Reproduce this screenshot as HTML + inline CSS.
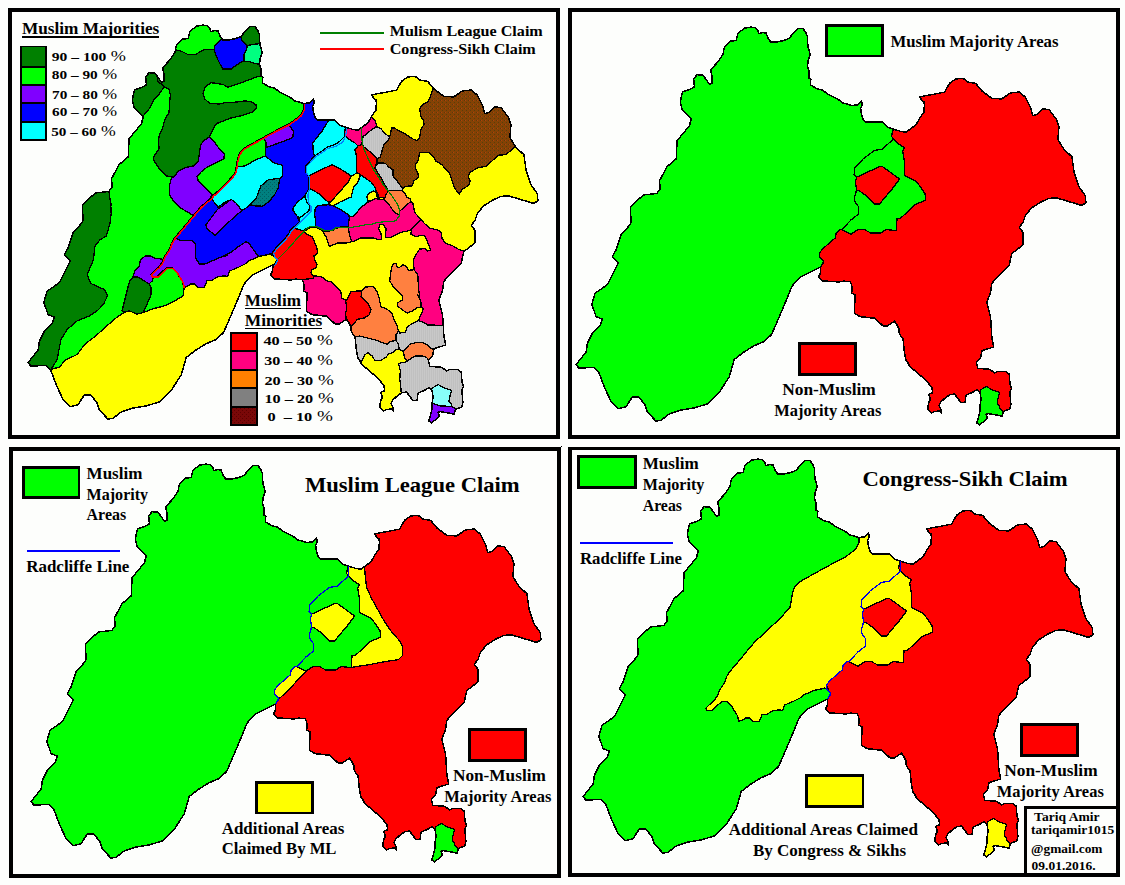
<!DOCTYPE html>
<html><head><meta charset="utf-8"><title>Punjab maps</title>
<style>html,body{margin:0;padding:0;background:#fdfefc}svg{display:block}</style></head>
<body>
<svg width="1125" height="885" viewBox="0 0 1125 885" shape-rendering="crispEdges">
<defs>
<pattern id="brown" width="4" height="4" patternUnits="userSpaceOnUse"><rect width="4" height="4" fill="#844204"/><rect x="0" y="0" width="1" height="1" fill="#5a3c0c"/><rect x="2" y="2" width="1" height="1" fill="#5a3c0c"/><rect x="1" y="0" width="1" height="1" fill="#b0400c"/></pattern>
<pattern id="gray" width="2" height="2" patternUnits="userSpaceOnUse"><rect width="2" height="2" fill="#c0c0c0"/><rect width="1" height="2" fill="#c8c8c8"/></pattern>
<pattern id="teal" width="4" height="4" patternUnits="userSpaceOnUse"><rect width="4" height="4" fill="#008080"/><rect width="1" height="1" fill="#006060"/><rect x="2" y="2" width="1" height="1" fill="#006060"/></pattern>
<pattern id="maroon" width="4" height="4" patternUnits="userSpaceOnUse"><rect width="4" height="4" fill="#7a0808"/><rect width="1" height="1" fill="#5c0000"/><rect x="2" y="2" width="1" height="1" fill="#5c0000"/></pattern>
</defs>
<rect width="1125" height="885" fill="#fdfefc"/>
<path fill-rule="evenodd" d="M8.0,8.0 H560.0 V439.0 H8.0 Z M12.0,12.0 H556.0 V435.0 H12.0 Z" fill="#000"/>
<path fill-rule="evenodd" d="M568.0,8.0 H1120.0 V439.0 H568.0 Z M572.0,12.0 H1116.0 V435.0 H572.0 Z" fill="#000"/>
<path fill-rule="evenodd" d="M9.0,447.0 H561.0 V878.0 H9.0 Z M13.0,451.0 H557.0 V874.0 H13.0 Z" fill="#000"/>
<path fill-rule="evenodd" d="M568.0,447.0 H1120.0 V876.8 H568.0 Z M571.8,450.0 H1116.0 V872.9 H571.8 Z" fill="#000"/>
<path d="M893.3,129.2 L901.9,131.7 L906.2,131.9 L910.0,129.3 L914.7,125.7 L917.0,123.0 L920.1,117.4 L923.8,112.4 L924.4,105.0 L924.1,102.0 L922.6,101.2 L919.7,97.1 L924.6,95.9 L932.1,94.6 L944.5,92.1 L949.5,83.4 L955.8,78.9 L963.2,78.4 L968.2,82.2 L975.7,83.4 L981.9,90.9 L991.8,98.4 L1001.8,98.9 L1010.5,92.9 L1019.2,92.1 L1025.4,97.1 L1030.4,107.0 L1032.9,115.8 L1036.6,114.5 L1042.9,109.0 L1049.0,109.5 L1056.5,119.5 L1059.0,127.0 L1057.8,139.4 L1064.0,149.4 L1072.0,156.8 L1074.0,171.8 L1079.0,186.7 L1085.2,195.4 L1085.9,202.9 L1081.4,205.4 L1069.0,201.6 L1056.5,197.9 L1049.0,198.4 L1041.6,201.6 L1031.7,207.9 L1025.4,215.3 L1023.0,222.8 L1019.2,227.0 L1023.0,232.5 L1023.0,244.9 L1011.8,253.6 L1009.3,264.8 L999.3,274.8 L991.8,283.5 L990.6,292.2 L986.9,302.2 L990.6,317.1 L991.8,337.0 L993.6,347.0 L981.9,350.7 L980.6,358.2 L976.3,361.9 L977.9,368.3 L990.1,369.4 L994.4,373.1 L997.1,371.5 L1006.1,371.5 L1009.3,374.2 L1009.9,383.2 L1011.5,388.6 L1009.9,391.8 L1010.9,404.6 L1009.9,408.8 L1003.5,411.5 L1001.9,416.3 L998.1,415.2 L988.5,413.6 L985.9,414.2 L987.5,417.4 L984.3,421.1 L979.5,424.8 L976.8,423.2 L978.4,417.4 L980.0,411.0 L980.0,405.1 L981.1,399.2 L980.0,392.8 L976.8,389.6 L972.5,392.3 L966.1,395.0 L965.1,402.4 L960.8,402.4 L954.4,393.9 L949.6,394.9 L944.3,398.7 L940.5,402.4 L938.9,405.6 L941.1,409.9 L941.6,413.1 L939.5,411.0 L934.1,411.5 L931.5,413.1 L927.7,408.8 L928.8,402.4 L930.4,399.2 L928.8,394.4 L932.5,392.8 L932.0,387.5 L925.6,380.0 L917.1,372.6 L909.6,366.2 L907.5,361.9 L906.2,360.4 L904.4,352.9 L903.7,345.4 L903.1,338.6 L899.4,334.2 L898.8,328.6 L896.9,324.9 L894.4,321.2 L890.7,323.7 L886.9,326.1 L883.2,326.1 L874.9,318.3 L859.9,316.6 L854.5,313.4 L855.0,294.7 L851.6,293.3 L852.2,287.1 L850.4,281.5 L843.5,281.2 L838.5,281.9 L822.4,280.9 L818.6,277.1 L820.5,272.8 L820.5,267.2 L814.9,269.7 L807.4,273.4 L800.0,277.1 L795.0,282.1 L791.5,287.2 L786.5,299.7 L779.1,317.1 L771.6,334.5 L764.1,341.5 L754.2,345.7 L744.2,351.9 L734.3,359.4 L729.3,376.8 L719.3,392.3 L708.1,403.7 L694.4,407.9 L679.5,410.4 L669.6,413.7 L660.8,420.4 L655.9,421.1 L647.2,411.7 L644.7,404.2 L638.4,396.7 L632.2,397.2 L626.0,406.7 L618.5,408.7 L611.1,401.7 L604.8,388.0 L598.6,371.8 L593.6,367.4 L578.7,368.1 L576.2,364.4 L586.2,351.9 L587.4,343.2 L592.4,333.3 L599.9,325.8 L602.4,319.1 L596.1,316.6 L591.9,304.6 L594.9,293.4 L607.3,284.7 L614.8,269.8 L618.5,262.8 L612.3,256.9 L616.0,249.9 L621.0,235.0 L629.7,225.0 L631.0,222.8 L630.5,206.6 L636.0,201.6 L643.4,195.0 L657.0,193.4 L660.0,189.0 L659.6,180.5 L667.0,166.8 L676.3,158.8 L677.0,140.7 L689.5,125.7 L691.2,118.8 L682.0,109.6 L680.3,102.0 L682.5,91.6 L689.5,89.6 L694.4,86.7 L693.7,79.2 L697.0,74.7 L703.0,75.2 L709.4,84.2 L711.9,83.4 L711.9,75.2 L710.6,69.7 L718.2,61.7 L723.2,53.6 L724.4,46.8 L730.0,41.2 L736.2,40.5 L738.1,33.1 L744.3,28.3 L750.6,27.1 L754.9,27.5 L758.0,30.6 L758.6,33.7 L762.4,32.5 L766.1,33.1 L768.0,38.1 L770.5,41.8 L777.9,41.8 L784.2,40.5 L789.1,38.1 L794.1,32.5 L798.5,28.3 L802.8,28.3 L805.9,32.5 L807.5,36.8 L807.8,45.5 L809.0,50.5 L810.3,54.9 L808.4,59.2 L807.5,66.1 L808.8,70.4 L808.8,77.9 L810.9,79.1 L810.3,84.7 L816.5,88.5 L822.7,90.3 L827.7,94.1 L837.7,99.0 L842.6,102.8 L851.6,105.4 L857.2,105.0 L861.6,101.2 L862.2,105.6 L860.7,107.5 L861.0,112.4 L862.8,118.7 L865.3,122.1 L882.1,121.8 L887.1,126.8Z" fill="#ff0000" stroke="none"/>
<path d="M820.5,267.2 L814.9,269.7 L807.4,273.4 L800.0,277.1 L795.0,282.1 L791.5,287.2 L786.5,299.7 L779.1,317.1 L771.6,334.5 L764.1,341.5 L754.2,345.7 L744.2,351.9 L734.3,359.4 L729.3,376.8 L719.3,392.3 L708.1,403.7 L694.4,407.9 L679.5,410.4 L669.6,413.7 L660.8,420.4 L655.9,421.1 L647.2,411.7 L644.7,404.2 L638.4,396.7 L632.2,397.2 L626.0,406.7 L618.5,408.7 L611.1,401.7 L604.8,388.0 L598.6,371.8 L593.6,367.4 L578.7,368.1 L576.2,364.4 L586.2,351.9 L587.4,343.2 L592.4,333.3 L599.9,325.8 L602.4,319.1 L596.1,316.6 L591.9,304.6 L594.9,293.4 L607.3,284.7 L614.8,269.8 L618.5,262.8 L612.3,256.9 L616.0,249.9 L621.0,235.0 L629.7,225.0 L631.0,222.8 L630.5,206.6 L636.0,201.6 L643.4,195.0 L657.0,193.4 L660.0,189.0 L659.6,180.5 L667.0,166.8 L676.3,158.8 L677.0,140.7 L689.5,125.7 L691.2,118.8 L682.0,109.6 L680.3,102.0 L682.5,91.6 L689.5,89.6 L694.4,86.7 L693.7,79.2 L697.0,74.7 L703.0,75.2 L709.4,84.2 L711.9,83.4 L711.9,75.2 L710.6,69.7 L718.2,61.7 L723.2,53.6 L724.4,46.8 L730.0,41.2 L736.2,40.5 L738.1,33.1 L744.3,28.3 L750.6,27.1 L754.9,27.5 L758.0,30.6 L758.6,33.7 L762.4,32.5 L766.1,33.1 L768.0,38.1 L770.5,41.8 L777.9,41.8 L784.2,40.5 L789.1,38.1 L794.1,32.5 L798.5,28.3 L802.8,28.3 L805.9,32.5 L807.5,36.8 L807.8,45.5 L809.0,50.5 L810.3,54.9 L808.4,59.2 L807.5,66.1 L808.8,70.4 L808.8,77.9 L810.9,79.1 L810.3,84.7 L816.5,88.5 L822.7,90.3 L827.7,94.1 L837.7,99.0 L842.6,102.8 L851.6,105.4 L857.2,105.0 L861.6,101.2 L862.2,105.6 L860.7,107.5 L861.0,112.4 L862.8,118.7 L865.3,122.1 L882.1,121.8 L887.1,126.8 L893.3,129.2 L891.5,136.1 L893.3,139.2 L898.3,143.6 L904.5,147.9 L902.7,151.0 L904.5,162.2 L904.5,175.3 L915.7,180.9 L920.7,187.1 L925.1,194.0 L925.6,200.0 L914.4,205.0 L908.2,211.2 L900.8,218.0 L897.0,218.6 L896.4,230.5 L888.3,229.8 L885.8,229.8 L880.8,233.0 L870.9,233.0 L864.7,229.8 L857.8,229.6 L851.0,234.2 L841.6,229.8 L839.8,229.2 L836.0,233.6 L835.4,237.9 L827.3,244.8 L821.7,249.8 L819.5,253.5 L819.9,257.8 L823.3,261.0 L823.0,263.2Z" fill="#00ff00" stroke="#000" stroke-width="1.3" stroke-linejoin="round"/>
<path d="M856.6,177.2 L864.7,173.4 L879.6,166.6 L882.8,166.8 L899.6,179.0 L892.1,189.0 L879.6,203.9 L874.7,203.9 L864.7,194.6 L858.5,190.2 L856.6,190.2 L855.4,182.1Z" fill="#ff0000" stroke="#000" stroke-width="1.3" stroke-linejoin="round"/>
<path d="M981.1,389.6 L986.4,386.4 L991.7,389.6 L999.7,392.3 L998.1,398.2 L997.1,403.0 L999.7,406.2 L999.7,408.3 L1003.5,411.5 L1001.9,416.3 L998.1,415.2 L988.5,413.6 L985.9,414.2 L987.5,417.4 L984.3,421.1 L979.5,424.8 L976.8,423.2 L978.4,417.4 L980.0,411.0 L980.0,405.1 L981.1,399.2 L980.0,392.8Z" fill="#00ff00" stroke="#000" stroke-width="1.3" stroke-linejoin="round"/>
<path d="M893.3,139.2 L887.1,144.8 L882.1,149.2 L874.7,150.4 L863.5,158.5 L854.8,167.8 L854.1,174.7 L856.6,177.2 L855.4,182.1 L856.6,190.2 L854.8,195.8 L854.7,201.2 L858.2,206.2 L858.2,214.3 L851.0,219.9 L841.6,229.8" fill="none" stroke="#000" stroke-width="1.3" stroke-linejoin="round"/>
<path d="M893.3,129.2 L901.9,131.7 L906.2,131.9 L910.0,129.3 L914.7,125.7 L917.0,123.0 L920.1,117.4 L923.8,112.4 L924.4,105.0 L924.1,102.0 L922.6,101.2 L919.7,97.1 L924.6,95.9 L932.1,94.6 L944.5,92.1 L949.5,83.4 L955.8,78.9 L963.2,78.4 L968.2,82.2 L975.7,83.4 L981.9,90.9 L991.8,98.4 L1001.8,98.9 L1010.5,92.9 L1019.2,92.1 L1025.4,97.1 L1030.4,107.0 L1032.9,115.8 L1036.6,114.5 L1042.9,109.0 L1049.0,109.5 L1056.5,119.5 L1059.0,127.0 L1057.8,139.4 L1064.0,149.4 L1072.0,156.8 L1074.0,171.8 L1079.0,186.7 L1085.2,195.4 L1085.9,202.9 L1081.4,205.4 L1069.0,201.6 L1056.5,197.9 L1049.0,198.4 L1041.6,201.6 L1031.7,207.9 L1025.4,215.3 L1023.0,222.8 L1019.2,227.0 L1023.0,232.5 L1023.0,244.9 L1011.8,253.6 L1009.3,264.8 L999.3,274.8 L991.8,283.5 L990.6,292.2 L986.9,302.2 L990.6,317.1 L991.8,337.0 L993.6,347.0 L981.9,350.7 L980.6,358.2 L976.3,361.9 L977.9,368.3 L990.1,369.4 L994.4,373.1 L997.1,371.5 L1006.1,371.5 L1009.3,374.2 L1009.9,383.2 L1011.5,388.6 L1009.9,391.8 L1010.9,404.6 L1009.9,408.8 L1003.5,411.5 L1001.9,416.3 L998.1,415.2 L988.5,413.6 L985.9,414.2 L987.5,417.4 L984.3,421.1 L979.5,424.8 L976.8,423.2 L978.4,417.4 L980.0,411.0 L980.0,405.1 L981.1,399.2 L980.0,392.8 L976.8,389.6 L972.5,392.3 L966.1,395.0 L965.1,402.4 L960.8,402.4 L954.4,393.9 L949.6,394.9 L944.3,398.7 L940.5,402.4 L938.9,405.6 L941.1,409.9 L941.6,413.1 L939.5,411.0 L934.1,411.5 L931.5,413.1 L927.7,408.8 L928.8,402.4 L930.4,399.2 L928.8,394.4 L932.5,392.8 L932.0,387.5 L925.6,380.0 L917.1,372.6 L909.6,366.2 L907.5,361.9 L906.2,360.4 L904.4,352.9 L903.7,345.4 L903.1,338.6 L899.4,334.2 L898.8,328.6 L896.9,324.9 L894.4,321.2 L890.7,323.7 L886.9,326.1 L883.2,326.1 L874.9,318.3 L859.9,316.6 L854.5,313.4 L855.0,294.7 L851.6,293.3 L852.2,287.1 L850.4,281.5 L843.5,281.2 L838.5,281.9 L822.4,280.9 L818.6,277.1 L820.5,272.8 L820.5,267.2 L814.9,269.7 L807.4,273.4 L800.0,277.1 L795.0,282.1 L791.5,287.2 L786.5,299.7 L779.1,317.1 L771.6,334.5 L764.1,341.5 L754.2,345.7 L744.2,351.9 L734.3,359.4 L729.3,376.8 L719.3,392.3 L708.1,403.7 L694.4,407.9 L679.5,410.4 L669.6,413.7 L660.8,420.4 L655.9,421.1 L647.2,411.7 L644.7,404.2 L638.4,396.7 L632.2,397.2 L626.0,406.7 L618.5,408.7 L611.1,401.7 L604.8,388.0 L598.6,371.8 L593.6,367.4 L578.7,368.1 L576.2,364.4 L586.2,351.9 L587.4,343.2 L592.4,333.3 L599.9,325.8 L602.4,319.1 L596.1,316.6 L591.9,304.6 L594.9,293.4 L607.3,284.7 L614.8,269.8 L618.5,262.8 L612.3,256.9 L616.0,249.9 L621.0,235.0 L629.7,225.0 L631.0,222.8 L630.5,206.6 L636.0,201.6 L643.4,195.0 L657.0,193.4 L660.0,189.0 L659.6,180.5 L667.0,166.8 L676.3,158.8 L677.0,140.7 L689.5,125.7 L691.2,118.8 L682.0,109.6 L680.3,102.0 L682.5,91.6 L689.5,89.6 L694.4,86.7 L693.7,79.2 L697.0,74.7 L703.0,75.2 L709.4,84.2 L711.9,83.4 L711.9,75.2 L710.6,69.7 L718.2,61.7 L723.2,53.6 L724.4,46.8 L730.0,41.2 L736.2,40.5 L738.1,33.1 L744.3,28.3 L750.6,27.1 L754.9,27.5 L758.0,30.6 L758.6,33.7 L762.4,32.5 L766.1,33.1 L768.0,38.1 L770.5,41.8 L777.9,41.8 L784.2,40.5 L789.1,38.1 L794.1,32.5 L798.5,28.3 L802.8,28.3 L805.9,32.5 L807.5,36.8 L807.8,45.5 L809.0,50.5 L810.3,54.9 L808.4,59.2 L807.5,66.1 L808.8,70.4 L808.8,77.9 L810.9,79.1 L810.3,84.7 L816.5,88.5 L822.7,90.3 L827.7,94.1 L837.7,99.0 L842.6,102.8 L851.6,105.4 L857.2,105.0 L861.6,101.2 L862.2,105.6 L860.7,107.5 L861.0,112.4 L862.8,118.7 L865.3,122.1 L882.1,121.8 L887.1,126.8Z" fill="none" stroke="#000" stroke-width="1.5" stroke-linejoin="round"/>
<rect x="826.3" y="25.7" width="56.0" height="30.3" fill="#00ff00" stroke="#000" stroke-width="2.6"/>
<text x="890.5" y="46.6" font-size="16.5" font-family="Liberation Serif, serif" font-weight="bold"  textLength="168.0" lengthAdjust="spacingAndGlyphs">Muslim Majority Areas</text>
<rect x="799.3" y="343.4" width="56.5" height="31.1" fill="#ff0000" stroke="#000" stroke-width="2.6"/>
<text x="782.2" y="394.7" font-size="16.5" font-family="Liberation Serif, serif" font-weight="bold"  textLength="93.6" lengthAdjust="spacingAndGlyphs">Non-Muslim</text>
<text x="774.3" y="415.6" font-size="16.5" font-family="Liberation Serif, serif" font-weight="bold"  textLength="107.0" lengthAdjust="spacingAndGlyphs">Majority Areas</text>
<path d="M348.3,566.2 L356.9,568.7 L361.2,568.9 L365.0,566.3 L369.7,562.7 L372.0,560.0 L375.1,554.4 L378.8,549.4 L379.4,542.0 L379.1,539.0 L377.6,538.2 L374.7,534.1 L379.6,532.9 L387.1,531.6 L399.5,529.1 L404.5,520.4 L410.8,515.9 L418.2,515.4 L423.2,519.2 L430.7,520.4 L436.9,527.9 L446.8,535.4 L456.8,535.9 L465.5,529.9 L474.2,529.1 L480.4,534.1 L485.4,544.0 L487.9,552.8 L491.6,551.5 L497.9,546.0 L504.0,546.5 L511.5,556.5 L514.0,564.0 L512.8,576.4 L519.0,586.4 L527.0,593.8 L529.0,608.8 L534.0,623.7 L540.2,632.4 L540.9,639.9 L536.4,642.4 L524.0,638.6 L511.5,634.9 L504.0,635.4 L496.6,638.6 L486.7,644.9 L480.4,652.3 L478.0,659.8 L474.2,664.0 L478.0,669.5 L478.0,681.9 L466.8,690.6 L464.3,701.8 L454.3,711.8 L446.8,720.5 L445.6,729.2 L441.9,739.2 L445.6,754.1 L446.8,774.0 L448.6,784.0 L436.9,787.7 L435.6,795.2 L431.3,798.9 L432.9,805.3 L445.1,806.4 L449.4,810.1 L452.1,808.5 L461.1,808.5 L464.3,811.2 L464.9,820.2 L466.5,825.6 L464.9,828.8 L465.9,841.6 L464.9,845.8 L458.5,848.5 L456.9,853.3 L453.1,852.2 L443.5,850.6 L440.9,851.2 L442.5,854.4 L439.3,858.1 L434.5,861.8 L431.8,860.2 L433.4,854.4 L435.0,848.0 L435.0,842.1 L436.1,836.2 L435.0,829.8 L431.8,826.6 L427.5,829.3 L421.1,832.0 L420.1,839.4 L415.8,839.4 L409.4,830.9 L404.6,831.9 L399.3,835.7 L395.5,839.4 L393.9,842.6 L396.1,846.9 L396.6,850.1 L394.5,848.0 L389.1,848.5 L386.5,850.1 L382.7,845.8 L383.8,839.4 L385.4,836.2 L383.8,831.4 L387.5,829.8 L387.0,824.5 L380.6,817.0 L372.1,809.6 L364.6,803.2 L362.5,798.9 L361.2,797.4 L359.4,789.9 L358.7,782.4 L358.1,775.6 L354.4,771.2 L353.8,765.6 L351.9,761.9 L349.4,758.2 L345.7,760.7 L341.9,763.1 L338.2,763.1 L329.9,755.3 L314.9,753.6 L309.5,750.4 L310.0,731.7 L306.6,730.3 L307.2,724.1 L305.4,718.5 L298.5,718.2 L293.5,718.9 L277.4,717.9 L273.6,714.1 L275.5,709.8 L275.5,704.2 L269.9,706.7 L262.4,710.4 L255.0,714.1 L250.0,719.1 L246.5,724.2 L241.5,736.7 L234.1,754.1 L226.6,771.5 L219.1,778.5 L209.2,782.7 L199.2,788.9 L189.3,796.4 L184.3,813.8 L174.3,829.3 L163.1,840.7 L149.4,844.9 L134.5,847.4 L124.6,850.7 L115.8,857.4 L110.9,858.1 L102.2,848.7 L99.7,841.2 L93.4,833.7 L87.2,834.2 L81.0,843.7 L73.5,845.7 L66.1,838.7 L59.8,825.0 L53.6,808.8 L48.6,804.4 L33.7,805.1 L31.2,801.4 L41.2,788.9 L42.4,780.2 L47.4,770.3 L54.9,762.8 L57.4,756.1 L51.1,753.6 L46.9,741.6 L49.9,730.4 L62.3,721.7 L69.8,706.8 L73.5,699.8 L67.3,693.9 L71.0,686.9 L76.0,672.0 L84.7,662.0 L86.0,659.8 L85.5,643.6 L91.0,638.6 L98.4,632.0 L112.0,630.4 L115.0,626.0 L114.6,617.5 L122.0,603.8 L131.3,595.8 L132.0,577.7 L144.5,562.7 L146.2,555.8 L137.0,546.6 L135.3,539.0 L137.5,528.6 L144.5,526.6 L149.4,523.7 L148.7,516.2 L152.0,511.7 L158.0,512.2 L164.4,521.2 L166.9,520.4 L166.9,512.2 L165.6,506.7 L173.2,498.7 L178.2,490.6 L179.4,483.8 L185.0,478.2 L191.2,477.5 L193.1,470.1 L199.3,465.3 L205.6,464.1 L209.9,464.5 L213.0,467.6 L213.6,470.7 L217.4,469.5 L221.1,470.1 L223.0,475.1 L225.5,478.8 L232.9,478.8 L239.2,477.5 L244.1,475.1 L249.1,469.5 L253.5,465.3 L257.8,465.3 L260.9,469.5 L262.5,473.8 L262.8,482.5 L264.0,487.5 L265.3,491.9 L263.4,496.2 L262.5,503.1 L263.8,507.4 L263.8,514.9 L265.9,516.1 L265.3,521.7 L271.5,525.5 L277.7,527.3 L282.7,531.1 L292.7,536.0 L297.6,539.8 L306.6,542.4 L312.2,542.0 L316.6,538.2 L317.2,542.6 L315.7,544.5 L316.0,549.4 L317.8,555.7 L320.3,559.1 L337.1,558.8 L342.1,563.8Z" fill="#ff0000" stroke="none"/>
<path d="M275.5,704.2 L269.9,706.7 L262.4,710.4 L255.0,714.1 L250.0,719.1 L246.5,724.2 L241.5,736.7 L234.1,754.1 L226.6,771.5 L219.1,778.5 L209.2,782.7 L199.2,788.9 L189.3,796.4 L184.3,813.8 L174.3,829.3 L163.1,840.7 L149.4,844.9 L134.5,847.4 L124.6,850.7 L115.8,857.4 L110.9,858.1 L102.2,848.7 L99.7,841.2 L93.4,833.7 L87.2,834.2 L81.0,843.7 L73.5,845.7 L66.1,838.7 L59.8,825.0 L53.6,808.8 L48.6,804.4 L33.7,805.1 L31.2,801.4 L41.2,788.9 L42.4,780.2 L47.4,770.3 L54.9,762.8 L57.4,756.1 L51.1,753.6 L46.9,741.6 L49.9,730.4 L62.3,721.7 L69.8,706.8 L73.5,699.8 L67.3,693.9 L71.0,686.9 L76.0,672.0 L84.7,662.0 L86.0,659.8 L85.5,643.6 L91.0,638.6 L98.4,632.0 L112.0,630.4 L115.0,626.0 L114.6,617.5 L122.0,603.8 L131.3,595.8 L132.0,577.7 L144.5,562.7 L146.2,555.8 L137.0,546.6 L135.3,539.0 L137.5,528.6 L144.5,526.6 L149.4,523.7 L148.7,516.2 L152.0,511.7 L158.0,512.2 L164.4,521.2 L166.9,520.4 L166.9,512.2 L165.6,506.7 L173.2,498.7 L178.2,490.6 L179.4,483.8 L185.0,478.2 L191.2,477.5 L193.1,470.1 L199.3,465.3 L205.6,464.1 L209.9,464.5 L213.0,467.6 L213.6,470.7 L217.4,469.5 L221.1,470.1 L223.0,475.1 L225.5,478.8 L232.9,478.8 L239.2,477.5 L244.1,475.1 L249.1,469.5 L253.5,465.3 L257.8,465.3 L260.9,469.5 L262.5,473.8 L262.8,482.5 L264.0,487.5 L265.3,491.9 L263.4,496.2 L262.5,503.1 L263.8,507.4 L263.8,514.9 L265.9,516.1 L265.3,521.7 L271.5,525.5 L277.7,527.3 L282.7,531.1 L292.7,536.0 L297.6,539.8 L306.6,542.4 L312.2,542.0 L316.6,538.2 L317.2,542.6 L315.7,544.5 L316.0,549.4 L317.8,555.7 L320.3,559.1 L337.1,558.8 L342.1,563.8 L348.3,566.2 L346.5,573.1 L348.3,576.2 L353.3,580.6 L359.5,584.9 L357.7,588.0 L359.5,599.2 L359.5,612.3 L370.7,617.9 L375.7,624.1 L380.1,631.0 L380.6,637.0 L369.4,642.0 L363.2,648.2 L355.8,655.0 L352.0,655.6 L351.4,667.5 L343.3,666.8 L340.8,666.8 L335.8,670.0 L325.9,670.0 L319.7,666.8 L312.8,666.6 L306.0,671.2 L296.6,666.8 L294.8,666.2 L291.0,670.6 L290.4,674.9 L282.3,681.8 L276.7,686.8 L274.5,690.5 L274.9,694.8 L278.3,698.0 L278.0,700.2Z" fill="#00ff00" stroke="#000" stroke-width="1.3" stroke-linejoin="round"/>
<path d="M348.3,566.2 L356.9,568.7 L361.2,568.9 L364.5,566.3 L365.5,578.7 L366.7,588.0 L372.3,599.8 L378.6,611.0 L384.8,622.2 L392.3,632.8 L399.7,640.9 L402.8,647.1 L402.2,655.8 L398.5,659.6 L386.0,661.4 L369.9,664.5 L354.9,666.8 L351.4,667.5 L352.0,655.6 L355.8,655.0 L363.2,648.2 L369.4,642.0 L380.6,637.0 L380.1,631.0 L375.7,624.1 L370.7,617.9 L359.5,612.3 L359.5,599.2 L357.7,588.0 L359.5,584.9 L353.3,580.6 L348.3,576.2 L346.5,573.1 L348.3,566.2Z" fill="#ffff00" stroke="#000" stroke-width="1.3" stroke-linejoin="round"/>
<path d="M296.6,666.8 L306.0,671.2 L300.0,677.3 L290.1,688.5 L280.1,697.9 L278.3,698.0 L274.9,694.8 L274.5,690.5 L276.7,686.8 L282.3,681.8 L290.4,674.9 L291.0,670.6 L294.8,666.2Z" fill="#ffff00" stroke="#000" stroke-width="1.3" stroke-linejoin="round"/>
<path d="M311.6,614.2 L319.7,610.4 L334.6,603.6 L337.8,603.8 L354.6,616.0 L347.1,626.0 L334.6,640.9 L329.7,640.9 L319.7,631.6 L313.5,627.2 L311.6,627.2 L310.4,619.1Z" fill="#ffff00" stroke="#000" stroke-width="1.3" stroke-linejoin="round"/>
<path d="M436.1,826.6 L441.4,823.4 L446.7,826.6 L454.7,829.3 L453.1,835.2 L452.1,840.0 L454.7,843.2 L454.7,845.3 L458.5,848.5 L456.9,853.3 L453.1,852.2 L443.5,850.6 L440.9,851.2 L442.5,854.4 L439.3,858.1 L434.5,861.8 L431.8,860.2 L433.4,854.4 L435.0,848.0 L435.0,842.1 L436.1,836.2 L435.0,829.8Z" fill="#00ff00" stroke="#000" stroke-width="1.3" stroke-linejoin="round"/>
<path d="M348.3,576.2 L342.1,581.8 L337.1,586.2 L329.7,587.4 L318.5,595.5 L309.8,604.8 L309.1,611.7 L311.6,614.2 L310.4,619.1 L311.6,627.2 L309.8,632.8 L309.7,638.2 L313.2,643.2 L313.2,651.3 L306.0,656.9 L296.6,666.8" fill="none" stroke="#000" stroke-width="1.3" stroke-linejoin="round"/>
<path d="M348.3,566.2 L356.9,568.7 L361.2,568.9 L365.0,566.3 L369.7,562.7 L372.0,560.0 L375.1,554.4 L378.8,549.4 L379.4,542.0 L379.1,539.0 L377.6,538.2 L374.7,534.1 L379.6,532.9 L387.1,531.6 L399.5,529.1 L404.5,520.4 L410.8,515.9 L418.2,515.4 L423.2,519.2 L430.7,520.4 L436.9,527.9 L446.8,535.4 L456.8,535.9 L465.5,529.9 L474.2,529.1 L480.4,534.1 L485.4,544.0 L487.9,552.8 L491.6,551.5 L497.9,546.0 L504.0,546.5 L511.5,556.5 L514.0,564.0 L512.8,576.4 L519.0,586.4 L527.0,593.8 L529.0,608.8 L534.0,623.7 L540.2,632.4 L540.9,639.9 L536.4,642.4 L524.0,638.6 L511.5,634.9 L504.0,635.4 L496.6,638.6 L486.7,644.9 L480.4,652.3 L478.0,659.8 L474.2,664.0 L478.0,669.5 L478.0,681.9 L466.8,690.6 L464.3,701.8 L454.3,711.8 L446.8,720.5 L445.6,729.2 L441.9,739.2 L445.6,754.1 L446.8,774.0 L448.6,784.0 L436.9,787.7 L435.6,795.2 L431.3,798.9 L432.9,805.3 L445.1,806.4 L449.4,810.1 L452.1,808.5 L461.1,808.5 L464.3,811.2 L464.9,820.2 L466.5,825.6 L464.9,828.8 L465.9,841.6 L464.9,845.8 L458.5,848.5 L456.9,853.3 L453.1,852.2 L443.5,850.6 L440.9,851.2 L442.5,854.4 L439.3,858.1 L434.5,861.8 L431.8,860.2 L433.4,854.4 L435.0,848.0 L435.0,842.1 L436.1,836.2 L435.0,829.8 L431.8,826.6 L427.5,829.3 L421.1,832.0 L420.1,839.4 L415.8,839.4 L409.4,830.9 L404.6,831.9 L399.3,835.7 L395.5,839.4 L393.9,842.6 L396.1,846.9 L396.6,850.1 L394.5,848.0 L389.1,848.5 L386.5,850.1 L382.7,845.8 L383.8,839.4 L385.4,836.2 L383.8,831.4 L387.5,829.8 L387.0,824.5 L380.6,817.0 L372.1,809.6 L364.6,803.2 L362.5,798.9 L361.2,797.4 L359.4,789.9 L358.7,782.4 L358.1,775.6 L354.4,771.2 L353.8,765.6 L351.9,761.9 L349.4,758.2 L345.7,760.7 L341.9,763.1 L338.2,763.1 L329.9,755.3 L314.9,753.6 L309.5,750.4 L310.0,731.7 L306.6,730.3 L307.2,724.1 L305.4,718.5 L298.5,718.2 L293.5,718.9 L277.4,717.9 L273.6,714.1 L275.5,709.8 L275.5,704.2 L269.9,706.7 L262.4,710.4 L255.0,714.1 L250.0,719.1 L246.5,724.2 L241.5,736.7 L234.1,754.1 L226.6,771.5 L219.1,778.5 L209.2,782.7 L199.2,788.9 L189.3,796.4 L184.3,813.8 L174.3,829.3 L163.1,840.7 L149.4,844.9 L134.5,847.4 L124.6,850.7 L115.8,857.4 L110.9,858.1 L102.2,848.7 L99.7,841.2 L93.4,833.7 L87.2,834.2 L81.0,843.7 L73.5,845.7 L66.1,838.7 L59.8,825.0 L53.6,808.8 L48.6,804.4 L33.7,805.1 L31.2,801.4 L41.2,788.9 L42.4,780.2 L47.4,770.3 L54.9,762.8 L57.4,756.1 L51.1,753.6 L46.9,741.6 L49.9,730.4 L62.3,721.7 L69.8,706.8 L73.5,699.8 L67.3,693.9 L71.0,686.9 L76.0,672.0 L84.7,662.0 L86.0,659.8 L85.5,643.6 L91.0,638.6 L98.4,632.0 L112.0,630.4 L115.0,626.0 L114.6,617.5 L122.0,603.8 L131.3,595.8 L132.0,577.7 L144.5,562.7 L146.2,555.8 L137.0,546.6 L135.3,539.0 L137.5,528.6 L144.5,526.6 L149.4,523.7 L148.7,516.2 L152.0,511.7 L158.0,512.2 L164.4,521.2 L166.9,520.4 L166.9,512.2 L165.6,506.7 L173.2,498.7 L178.2,490.6 L179.4,483.8 L185.0,478.2 L191.2,477.5 L193.1,470.1 L199.3,465.3 L205.6,464.1 L209.9,464.5 L213.0,467.6 L213.6,470.7 L217.4,469.5 L221.1,470.1 L223.0,475.1 L225.5,478.8 L232.9,478.8 L239.2,477.5 L244.1,475.1 L249.1,469.5 L253.5,465.3 L257.8,465.3 L260.9,469.5 L262.5,473.8 L262.8,482.5 L264.0,487.5 L265.3,491.9 L263.4,496.2 L262.5,503.1 L263.8,507.4 L263.8,514.9 L265.9,516.1 L265.3,521.7 L271.5,525.5 L277.7,527.3 L282.7,531.1 L292.7,536.0 L297.6,539.8 L306.6,542.4 L312.2,542.0 L316.6,538.2 L317.2,542.6 L315.7,544.5 L316.0,549.4 L317.8,555.7 L320.3,559.1 L337.1,558.8 L342.1,563.8Z" fill="none" stroke="#000" stroke-width="1.5" stroke-linejoin="round"/>
<path d="M348.3,566.2 L348.3,576.2 L342.1,581.8 L337.1,586.2 L329.7,587.4 L318.5,595.5 L309.8,604.8 L309.1,611.7 L311.6,614.2 L310.4,619.1 L311.6,627.2 L309.8,632.8 L309.7,638.2 L313.2,643.2 L313.2,651.3 L306.0,656.9 L296.6,666.8 L294.8,666.2 L291.0,670.6 L290.4,674.9 L282.3,681.8 L276.7,686.8 L274.5,690.5 L274.9,694.8 L278.3,698.0 L278.0,700.2 L275.5,704.2" fill="none" stroke="#0000e0" stroke-width="1.3" stroke-linejoin="round"/>
<rect x="23.2" y="467.5" width="55.9" height="29.7" fill="#00ff00" stroke="#000" stroke-width="2.6"/>
<text x="86.6" y="478.6" font-size="16.5" font-family="Liberation Serif, serif" font-weight="bold"  textLength="55.8" lengthAdjust="spacingAndGlyphs">Muslim</text>
<text x="86.6" y="499.8" font-size="16.5" font-family="Liberation Serif, serif" font-weight="bold"  textLength="61.5" lengthAdjust="spacingAndGlyphs">Majority</text>
<text x="86.6" y="520.4" font-size="16.5" font-family="Liberation Serif, serif" font-weight="bold"  textLength="39.6" lengthAdjust="spacingAndGlyphs">Areas</text>
<rect x="27" y="550" width="93" height="2" fill="#0000ff"/>
<text x="26.2" y="571.9" font-size="16.5" font-family="Liberation Serif, serif" font-weight="bold"  textLength="103.2" lengthAdjust="spacingAndGlyphs">Radcliffe Line</text>
<text x="304.9" y="491.8" font-size="21" font-family="Liberation Serif, serif" font-weight="bold"  textLength="214.8" lengthAdjust="spacingAndGlyphs">Muslim League Claim</text>
<rect x="469.7" y="729.3" width="55.9" height="30.9" fill="#ff0000" stroke="#000" stroke-width="2.6"/>
<text x="453.0" y="781.2" font-size="16.5" font-family="Liberation Serif, serif" font-weight="bold"  textLength="92.8" lengthAdjust="spacingAndGlyphs">Non-Muslim</text>
<text x="444.3" y="801.9" font-size="16.5" font-family="Liberation Serif, serif" font-weight="bold"  textLength="107.0" lengthAdjust="spacingAndGlyphs">Majority Areas</text>
<rect x="256.4" y="782.3" width="56.1" height="30.8" fill="#ffff00" stroke="#000" stroke-width="2.6"/>
<text x="221.7" y="833.5" font-size="16.5" font-family="Liberation Serif, serif" font-weight="bold"  textLength="122.7" lengthAdjust="spacingAndGlyphs">Additional Areas</text>
<text x="221.7" y="854.1" font-size="16.5" font-family="Liberation Serif, serif" font-weight="bold"  textLength="114.8" lengthAdjust="spacingAndGlyphs">Claimed By ML</text>
<path d="M900.3,561.2 L908.9,563.7 L913.2,563.9 L917.0,561.3 L921.7,557.7 L924.0,555.0 L927.1,549.4 L930.8,544.4 L931.4,537.0 L931.1,534.0 L929.6,533.2 L926.7,529.1 L931.6,527.9 L939.1,526.6 L951.5,524.1 L956.5,515.4 L962.8,510.9 L970.2,510.4 L975.2,514.2 L982.7,515.4 L988.9,522.9 L998.8,530.4 L1008.8,530.9 L1017.5,524.9 L1026.2,524.1 L1032.4,529.1 L1037.4,539.0 L1039.9,547.8 L1043.6,546.5 L1049.9,541.0 L1056.0,541.5 L1063.5,551.5 L1066.0,559.0 L1064.8,571.4 L1071.0,581.4 L1079.0,588.8 L1081.0,603.8 L1086.0,618.7 L1092.2,627.4 L1092.9,634.9 L1088.4,637.4 L1076.0,633.6 L1063.5,629.9 L1056.0,630.4 L1048.6,633.6 L1038.7,639.9 L1032.4,647.3 L1030.0,654.8 L1026.2,659.0 L1030.0,664.5 L1030.0,676.9 L1018.8,685.6 L1016.3,696.8 L1006.3,706.8 L998.8,715.5 L997.6,724.2 L993.9,734.2 L997.6,749.1 L998.8,769.0 L1000.6,779.0 L988.9,782.7 L987.6,790.2 L983.3,793.9 L984.9,800.3 L997.1,801.4 L1001.4,805.1 L1004.1,803.5 L1013.1,803.5 L1016.3,806.2 L1016.9,815.2 L1018.5,820.6 L1016.9,823.8 L1017.9,836.6 L1016.9,840.8 L1010.5,843.5 L1008.9,848.3 L1005.1,847.2 L995.5,845.6 L992.9,846.2 L994.5,849.4 L991.3,853.1 L986.5,856.8 L983.8,855.2 L985.4,849.4 L987.0,843.0 L987.0,837.1 L988.1,831.2 L987.0,824.8 L983.8,821.6 L979.5,824.3 L973.1,827.0 L972.1,834.4 L967.8,834.4 L961.4,825.9 L956.6,826.9 L951.3,830.7 L947.5,834.4 L945.9,837.6 L948.1,841.9 L948.6,845.1 L946.5,843.0 L941.1,843.5 L938.5,845.1 L934.7,840.8 L935.8,834.4 L937.4,831.2 L935.8,826.4 L939.5,824.8 L939.0,819.5 L932.6,812.0 L924.1,804.6 L916.6,798.2 L914.5,793.9 L913.2,792.4 L911.4,784.9 L910.7,777.4 L910.1,770.6 L906.4,766.2 L905.8,760.6 L903.9,756.9 L901.4,753.2 L897.7,755.7 L893.9,758.1 L890.2,758.1 L881.9,750.3 L866.9,748.6 L861.5,745.4 L862.0,726.7 L858.6,725.3 L859.2,719.1 L857.4,713.5 L850.5,713.2 L845.5,713.9 L829.4,712.9 L825.6,709.1 L827.5,704.8 L827.5,699.2 L821.9,701.7 L814.4,705.4 L807.0,709.1 L802.0,714.1 L798.5,719.2 L793.5,731.7 L786.1,749.1 L778.6,766.5 L771.1,773.5 L761.2,777.7 L751.2,783.9 L741.3,791.4 L736.3,808.8 L726.3,824.3 L715.1,835.7 L701.4,839.9 L686.5,842.4 L676.6,845.7 L667.8,852.4 L662.9,853.1 L654.2,843.7 L651.7,836.2 L645.4,828.7 L639.2,829.2 L633.0,838.7 L625.5,840.7 L618.1,833.7 L611.8,820.0 L605.6,803.8 L600.6,799.4 L585.7,800.1 L583.2,796.4 L593.2,783.9 L594.4,775.2 L599.4,765.3 L606.9,757.8 L609.4,751.1 L603.1,748.6 L598.9,736.6 L601.9,725.4 L614.3,716.7 L621.8,701.8 L625.5,694.8 L619.3,688.9 L623.0,681.9 L628.0,667.0 L636.7,657.0 L638.0,654.8 L637.5,638.6 L643.0,633.6 L650.4,627.0 L664.0,625.4 L667.0,621.0 L666.6,612.5 L674.0,598.8 L683.3,590.8 L684.0,572.7 L696.5,557.7 L698.2,550.8 L689.0,541.6 L687.3,534.0 L689.5,523.6 L696.5,521.6 L701.4,518.7 L700.7,511.2 L704.0,506.7 L710.0,507.2 L716.4,516.2 L718.9,515.4 L718.9,507.2 L717.6,501.7 L725.2,493.7 L730.2,485.6 L731.4,478.8 L737.0,473.2 L743.2,472.5 L745.1,465.1 L751.3,460.3 L757.6,459.1 L761.9,459.5 L765.0,462.6 L765.6,465.7 L769.4,464.5 L773.1,465.1 L775.0,470.1 L777.5,473.8 L784.9,473.8 L791.2,472.5 L796.1,470.1 L801.1,464.5 L805.5,460.3 L809.8,460.3 L812.9,464.5 L814.5,468.8 L814.8,477.5 L816.0,482.5 L817.3,486.9 L815.4,491.2 L814.5,498.1 L815.8,502.4 L815.8,509.9 L817.9,511.1 L817.3,516.7 L823.5,520.5 L829.7,522.3 L834.7,526.1 L844.7,531.0 L849.6,534.8 L858.6,537.4 L864.2,537.0 L868.6,533.2 L869.2,537.6 L867.7,539.5 L868.0,544.4 L869.8,550.7 L872.3,554.1 L889.1,553.8 L894.1,558.8Z" fill="#ff0000" stroke="none"/>
<path d="M827.5,699.2 L821.9,701.7 L814.4,705.4 L807.0,709.1 L802.0,714.1 L798.5,719.2 L793.5,731.7 L786.1,749.1 L778.6,766.5 L771.1,773.5 L761.2,777.7 L751.2,783.9 L741.3,791.4 L736.3,808.8 L726.3,824.3 L715.1,835.7 L701.4,839.9 L686.5,842.4 L676.6,845.7 L667.8,852.4 L662.9,853.1 L654.2,843.7 L651.7,836.2 L645.4,828.7 L639.2,829.2 L633.0,838.7 L625.5,840.7 L618.1,833.7 L611.8,820.0 L605.6,803.8 L600.6,799.4 L585.7,800.1 L583.2,796.4 L593.2,783.9 L594.4,775.2 L599.4,765.3 L606.9,757.8 L609.4,751.1 L603.1,748.6 L598.9,736.6 L601.9,725.4 L614.3,716.7 L621.8,701.8 L625.5,694.8 L619.3,688.9 L623.0,681.9 L628.0,667.0 L636.7,657.0 L638.0,654.8 L637.5,638.6 L643.0,633.6 L650.4,627.0 L664.0,625.4 L667.0,621.0 L666.6,612.5 L674.0,598.8 L683.3,590.8 L684.0,572.7 L696.5,557.7 L698.2,550.8 L689.0,541.6 L687.3,534.0 L689.5,523.6 L696.5,521.6 L701.4,518.7 L700.7,511.2 L704.0,506.7 L710.0,507.2 L716.4,516.2 L718.9,515.4 L718.9,507.2 L717.6,501.7 L725.2,493.7 L730.2,485.6 L731.4,478.8 L737.0,473.2 L743.2,472.5 L745.1,465.1 L751.3,460.3 L757.6,459.1 L761.9,459.5 L765.0,462.6 L765.6,465.7 L769.4,464.5 L773.1,465.1 L775.0,470.1 L777.5,473.8 L784.9,473.8 L791.2,472.5 L796.1,470.1 L801.1,464.5 L805.5,460.3 L809.8,460.3 L812.9,464.5 L814.5,468.8 L814.8,477.5 L816.0,482.5 L817.3,486.9 L815.4,491.2 L814.5,498.1 L815.8,502.4 L815.8,509.9 L817.9,511.1 L817.3,516.7 L823.5,520.5 L829.7,522.3 L834.7,526.1 L844.7,531.0 L849.6,534.8 L858.6,537.4 L864.2,537.0 L868.6,533.2 L869.2,537.6 L867.7,539.5 L868.0,544.4 L869.8,550.7 L872.3,554.1 L889.1,553.8 L894.1,558.8 L900.3,561.2 L898.5,568.1 L900.3,571.2 L905.3,575.6 L911.5,579.9 L909.7,583.0 L911.5,594.2 L911.5,607.3 L922.7,612.9 L927.7,619.1 L932.1,626.0 L932.6,632.0 L921.4,637.0 L915.2,643.2 L907.8,650.0 L904.0,650.6 L903.4,662.5 L895.3,661.8 L892.8,661.8 L887.8,665.0 L877.9,665.0 L871.7,661.8 L864.8,661.6 L858.0,666.2 L848.6,661.8 L846.8,661.2 L843.0,665.6 L842.4,669.9 L834.3,676.8 L828.7,681.8 L826.5,685.5 L826.9,689.8 L830.3,693.0 L830.0,695.2Z" fill="#00ff00" stroke="#000" stroke-width="1.3" stroke-linejoin="round"/>
<path d="M859.0,537.7 L859.0,542.7 L855.9,548.9 L849.6,553.9 L843.4,558.2 L832.2,563.8 L818.5,571.3 L807.3,577.5 L798.6,582.5 L794.3,587.5 L792.4,593.7 L791.2,601.2 L789.9,607.4 L781.5,616.8 L774.5,623.6 L768.0,629.5 L764.5,633.4 L755.8,640.8 L748.3,649.5 L739.6,660.1 L729.6,671.9 L726.5,676.9 L724.7,682.5 L719.7,690.0 L717.2,696.2 L713.5,701.2 L708.5,705.5 L706.0,708.0 L706.6,710.5 L712.2,710.5 L717.2,705.5 L721.6,701.8 L727.2,701.8 L730.9,704.9 L734.6,711.1 L737.7,716.1 L738.4,721.1 L742.1,720.5 L745.8,718.0 L749.6,718.0 L753.3,721.7 L759.5,721.1 L762.0,714.9 L767.0,714.2 L773.2,710.5 L779.4,709.9 L782.4,710.5 L784.9,704.9 L793.6,701.2 L799.9,698.1 L803.6,695.0 L813.6,690.6 L824.8,688.1 L828.5,690.0 L826.5,685.5 L828.7,681.8 L834.3,676.8 L842.4,669.9 L843.0,665.6 L846.8,661.2 L848.6,661.8 L858.0,666.2 L864.8,661.6 L871.7,661.8 L877.9,665.0 L887.8,665.0 L892.8,661.8 L895.3,661.8 L903.4,662.5 L904.0,650.6 L907.8,650.0 L915.2,643.2 L921.4,637.0 L932.6,632.0 L932.1,626.0 L927.7,619.1 L922.7,612.9 L911.5,607.3 L911.5,594.2 L909.7,583.0 L911.5,579.9 L905.3,575.6 L900.3,571.2 L898.5,568.1 L900.3,561.2 L894.1,558.8 L889.1,553.8 L872.3,554.1 L869.8,550.7 L868.0,544.4 L867.7,539.5 L869.2,537.6 L868.6,533.2 L864.2,537.0Z" fill="#ffff00" stroke="#000" stroke-width="1.3" stroke-linejoin="round"/>
<path d="M863.6,609.2 L871.7,605.4 L886.6,598.6 L889.8,598.8 L906.6,611.0 L899.1,621.0 L886.6,635.9 L881.7,635.9 L871.7,626.6 L865.5,622.2 L863.6,622.2 L862.4,614.1Z" fill="#ff0000" stroke="#000" stroke-width="1.3" stroke-linejoin="round"/>
<path d="M988.1,821.6 L993.4,818.4 L998.7,821.6 L1006.7,824.3 L1005.1,830.2 L1004.1,835.0 L1006.7,838.2 L1006.7,840.3 L1010.5,843.5 L1008.9,848.3 L1005.1,847.2 L995.5,845.6 L992.9,846.2 L994.5,849.4 L991.3,853.1 L986.5,856.8 L983.8,855.2 L985.4,849.4 L987.0,843.0 L987.0,837.1 L988.1,831.2 L987.0,824.8Z" fill="#ffff00" stroke="#000" stroke-width="1.3" stroke-linejoin="round"/>
<path d="M900.3,571.2 L894.1,576.8 L889.1,581.2 L881.7,582.4 L870.5,590.5 L861.8,599.8 L861.1,606.7 L863.6,609.2 L862.4,614.1 L863.6,622.2 L861.8,627.8 L861.7,633.2 L865.2,638.2 L865.2,646.3 L858.0,651.9 L848.6,661.8" fill="none" stroke="#000" stroke-width="1.3" stroke-linejoin="round"/>
<path d="M900.3,561.2 L908.9,563.7 L913.2,563.9 L917.0,561.3 L921.7,557.7 L924.0,555.0 L927.1,549.4 L930.8,544.4 L931.4,537.0 L931.1,534.0 L929.6,533.2 L926.7,529.1 L931.6,527.9 L939.1,526.6 L951.5,524.1 L956.5,515.4 L962.8,510.9 L970.2,510.4 L975.2,514.2 L982.7,515.4 L988.9,522.9 L998.8,530.4 L1008.8,530.9 L1017.5,524.9 L1026.2,524.1 L1032.4,529.1 L1037.4,539.0 L1039.9,547.8 L1043.6,546.5 L1049.9,541.0 L1056.0,541.5 L1063.5,551.5 L1066.0,559.0 L1064.8,571.4 L1071.0,581.4 L1079.0,588.8 L1081.0,603.8 L1086.0,618.7 L1092.2,627.4 L1092.9,634.9 L1088.4,637.4 L1076.0,633.6 L1063.5,629.9 L1056.0,630.4 L1048.6,633.6 L1038.7,639.9 L1032.4,647.3 L1030.0,654.8 L1026.2,659.0 L1030.0,664.5 L1030.0,676.9 L1018.8,685.6 L1016.3,696.8 L1006.3,706.8 L998.8,715.5 L997.6,724.2 L993.9,734.2 L997.6,749.1 L998.8,769.0 L1000.6,779.0 L988.9,782.7 L987.6,790.2 L983.3,793.9 L984.9,800.3 L997.1,801.4 L1001.4,805.1 L1004.1,803.5 L1013.1,803.5 L1016.3,806.2 L1016.9,815.2 L1018.5,820.6 L1016.9,823.8 L1017.9,836.6 L1016.9,840.8 L1010.5,843.5 L1008.9,848.3 L1005.1,847.2 L995.5,845.6 L992.9,846.2 L994.5,849.4 L991.3,853.1 L986.5,856.8 L983.8,855.2 L985.4,849.4 L987.0,843.0 L987.0,837.1 L988.1,831.2 L987.0,824.8 L983.8,821.6 L979.5,824.3 L973.1,827.0 L972.1,834.4 L967.8,834.4 L961.4,825.9 L956.6,826.9 L951.3,830.7 L947.5,834.4 L945.9,837.6 L948.1,841.9 L948.6,845.1 L946.5,843.0 L941.1,843.5 L938.5,845.1 L934.7,840.8 L935.8,834.4 L937.4,831.2 L935.8,826.4 L939.5,824.8 L939.0,819.5 L932.6,812.0 L924.1,804.6 L916.6,798.2 L914.5,793.9 L913.2,792.4 L911.4,784.9 L910.7,777.4 L910.1,770.6 L906.4,766.2 L905.8,760.6 L903.9,756.9 L901.4,753.2 L897.7,755.7 L893.9,758.1 L890.2,758.1 L881.9,750.3 L866.9,748.6 L861.5,745.4 L862.0,726.7 L858.6,725.3 L859.2,719.1 L857.4,713.5 L850.5,713.2 L845.5,713.9 L829.4,712.9 L825.6,709.1 L827.5,704.8 L827.5,699.2 L821.9,701.7 L814.4,705.4 L807.0,709.1 L802.0,714.1 L798.5,719.2 L793.5,731.7 L786.1,749.1 L778.6,766.5 L771.1,773.5 L761.2,777.7 L751.2,783.9 L741.3,791.4 L736.3,808.8 L726.3,824.3 L715.1,835.7 L701.4,839.9 L686.5,842.4 L676.6,845.7 L667.8,852.4 L662.9,853.1 L654.2,843.7 L651.7,836.2 L645.4,828.7 L639.2,829.2 L633.0,838.7 L625.5,840.7 L618.1,833.7 L611.8,820.0 L605.6,803.8 L600.6,799.4 L585.7,800.1 L583.2,796.4 L593.2,783.9 L594.4,775.2 L599.4,765.3 L606.9,757.8 L609.4,751.1 L603.1,748.6 L598.9,736.6 L601.9,725.4 L614.3,716.7 L621.8,701.8 L625.5,694.8 L619.3,688.9 L623.0,681.9 L628.0,667.0 L636.7,657.0 L638.0,654.8 L637.5,638.6 L643.0,633.6 L650.4,627.0 L664.0,625.4 L667.0,621.0 L666.6,612.5 L674.0,598.8 L683.3,590.8 L684.0,572.7 L696.5,557.7 L698.2,550.8 L689.0,541.6 L687.3,534.0 L689.5,523.6 L696.5,521.6 L701.4,518.7 L700.7,511.2 L704.0,506.7 L710.0,507.2 L716.4,516.2 L718.9,515.4 L718.9,507.2 L717.6,501.7 L725.2,493.7 L730.2,485.6 L731.4,478.8 L737.0,473.2 L743.2,472.5 L745.1,465.1 L751.3,460.3 L757.6,459.1 L761.9,459.5 L765.0,462.6 L765.6,465.7 L769.4,464.5 L773.1,465.1 L775.0,470.1 L777.5,473.8 L784.9,473.8 L791.2,472.5 L796.1,470.1 L801.1,464.5 L805.5,460.3 L809.8,460.3 L812.9,464.5 L814.5,468.8 L814.8,477.5 L816.0,482.5 L817.3,486.9 L815.4,491.2 L814.5,498.1 L815.8,502.4 L815.8,509.9 L817.9,511.1 L817.3,516.7 L823.5,520.5 L829.7,522.3 L834.7,526.1 L844.7,531.0 L849.6,534.8 L858.6,537.4 L864.2,537.0 L868.6,533.2 L869.2,537.6 L867.7,539.5 L868.0,544.4 L869.8,550.7 L872.3,554.1 L889.1,553.8 L894.1,558.8Z" fill="none" stroke="#000" stroke-width="1.5" stroke-linejoin="round"/>
<path d="M900.3,561.2 L900.3,571.2 L894.1,576.8 L889.1,581.2 L881.7,582.4 L870.5,590.5 L861.8,599.8 L861.1,606.7 L863.6,609.2 L862.4,614.1 L863.6,622.2 L861.8,627.8 L861.7,633.2 L865.2,638.2 L865.2,646.3 L858.0,651.9 L848.6,661.8 L846.8,661.2 L843.0,665.6 L842.4,669.9 L834.3,676.8 L828.7,681.8 L826.5,685.5 L826.9,689.8 L830.3,693.0 L830.0,695.2 L827.5,699.2" fill="none" stroke="#0000e0" stroke-width="1.3" stroke-linejoin="round"/>
<rect x="578.5" y="456.5" width="57.1" height="31.4" fill="#00ff00" stroke="#000" stroke-width="2.8"/>
<text x="642.7" y="468.6" font-size="16.5" font-family="Liberation Serif, serif" font-weight="bold"  textLength="56.0" lengthAdjust="spacingAndGlyphs">Muslim</text>
<text x="642.7" y="489.8" font-size="16.5" font-family="Liberation Serif, serif" font-weight="bold"  textLength="61.7" lengthAdjust="spacingAndGlyphs">Majority</text>
<text x="642.7" y="510.5" font-size="16.5" font-family="Liberation Serif, serif" font-weight="bold"  textLength="39.3" lengthAdjust="spacingAndGlyphs">Areas</text>
<rect x="580" y="542" width="93" height="2" fill="#0000ff"/>
<text x="580.0" y="563.7" font-size="16.5" font-family="Liberation Serif, serif" font-weight="bold"  textLength="102.0" lengthAdjust="spacingAndGlyphs">Radcliffe Line</text>
<text x="862.4" y="486.0" font-size="21" font-family="Liberation Serif, serif" font-weight="bold"  textLength="205.3" lengthAdjust="spacingAndGlyphs">Congress-Sikh Claim</text>
<rect x="1021.8" y="724.8" width="55.9" height="30.9" fill="#ff0000" stroke="#000" stroke-width="2.6"/>
<text x="1004.3" y="775.7" font-size="16.5" font-family="Liberation Serif, serif" font-weight="bold"  textLength="93.3" lengthAdjust="spacingAndGlyphs">Non-Muslim</text>
<text x="996.8" y="796.9" font-size="16.5" font-family="Liberation Serif, serif" font-weight="bold"  textLength="107.0" lengthAdjust="spacingAndGlyphs">Majority Areas</text>
<rect x="806.4" y="775.5" width="56.4" height="30.8" fill="#ffff00" stroke="#000" stroke-width="2.6"/>
<text x="728.8" y="835.4" font-size="16.5" font-family="Liberation Serif, serif" font-weight="bold"  textLength="189.1" lengthAdjust="spacingAndGlyphs">Additional Areas Claimed</text>
<text x="752.9" y="856.3" font-size="16.5" font-family="Liberation Serif, serif" font-weight="bold"  textLength="153.3" lengthAdjust="spacingAndGlyphs">By Congress &amp; Sikhs</text>
<path d="M1025.5,876 V807.7 H1118" fill="none" stroke="#000" stroke-width="2.9"/>
<text x="1034.1" y="820.7" font-size="13" font-family="Liberation Serif, serif" font-weight="bold"  textLength="65.5" lengthAdjust="spacingAndGlyphs">Tariq Amir</text>
<text x="1031.1" y="834.4" font-size="13" font-family="Liberation Serif, serif" font-weight="bold"  textLength="83.1" lengthAdjust="spacingAndGlyphs">tariqamir1015</text>
<text x="1031.1" y="852.8" font-size="13" font-family="Liberation Serif, serif" font-weight="bold"  textLength="71.4" lengthAdjust="spacingAndGlyphs">@gmail.com</text>
<text x="1031.6" y="870.4" font-size="13" font-family="Liberation Serif, serif" font-weight="bold"  textLength="64.1" lengthAdjust="spacingAndGlyphs">09.01.2016.</text>
<clipPath id="c1"><path d="M345.3,127.2 L353.9,129.7 L358.2,129.9 L362.0,127.3 L366.7,123.7 L369.0,121.0 L372.1,115.4 L375.8,110.4 L376.4,103.0 L376.1,100.0 L374.6,99.2 L371.7,95.1 L376.6,93.9 L384.1,92.6 L396.5,90.1 L401.5,81.4 L407.8,76.9 L415.2,76.4 L420.2,80.2 L427.7,81.4 L433.9,88.9 L443.8,96.4 L453.8,96.9 L462.5,90.9 L471.2,90.1 L477.4,95.1 L482.4,105.0 L484.9,113.8 L488.6,112.5 L494.9,107.0 L501.0,107.5 L508.5,117.5 L511.0,125.0 L509.8,137.4 L516.0,147.4 L524.0,154.8 L526.0,169.8 L531.0,184.7 L537.2,193.4 L537.9,200.9 L533.4,203.4 L521.0,199.6 L508.5,195.9 L501.0,196.4 L493.6,199.6 L483.7,205.9 L477.4,213.3 L475.0,220.8 L471.2,225.0 L475.0,230.5 L475.0,242.9 L463.8,251.6 L461.3,262.8 L451.3,272.8 L443.8,281.5 L442.6,290.2 L438.9,300.2 L442.6,315.1 L443.8,335.0 L445.6,345.0 L433.9,348.7 L432.6,356.2 L428.3,359.9 L429.9,366.3 L442.1,367.4 L446.4,371.1 L449.1,369.5 L458.1,369.5 L461.3,372.2 L461.9,381.2 L463.5,386.6 L461.9,389.8 L462.9,402.6 L461.9,406.8 L455.5,409.5 L453.9,414.3 L450.1,413.2 L440.5,411.6 L437.9,412.2 L439.5,415.4 L436.3,419.1 L431.5,422.8 L428.8,421.2 L430.4,415.4 L432.0,409.0 L432.0,403.1 L433.1,397.2 L432.0,390.8 L428.8,387.6 L424.5,390.3 L418.1,393.0 L417.1,400.4 L412.8,400.4 L406.4,391.9 L401.6,392.9 L396.3,396.7 L392.5,400.4 L390.9,403.6 L393.1,407.9 L393.6,411.1 L391.5,409.0 L386.1,409.5 L383.5,411.1 L379.7,406.8 L380.8,400.4 L382.4,397.2 L380.8,392.4 L384.5,390.8 L384.0,385.5 L377.6,378.0 L369.1,370.6 L361.6,364.2 L359.5,359.9 L358.2,358.4 L356.4,350.9 L355.7,343.4 L355.1,336.6 L351.4,332.2 L350.8,326.6 L348.9,322.9 L346.4,319.2 L342.7,321.7 L338.9,324.1 L335.2,324.1 L326.9,316.3 L311.9,314.6 L306.5,311.4 L307.0,292.7 L303.6,291.3 L304.2,285.1 L302.4,279.5 L295.5,279.2 L290.5,279.9 L274.4,278.9 L270.6,275.1 L272.5,270.8 L272.5,265.2 L266.9,267.7 L259.4,271.4 L252.0,275.1 L247.0,280.1 L243.5,285.2 L238.5,297.7 L231.1,315.1 L223.6,332.5 L216.1,339.5 L206.2,343.7 L196.2,349.9 L186.3,357.4 L181.3,374.8 L171.3,390.3 L160.1,401.7 L146.4,405.9 L131.5,408.4 L121.6,411.7 L112.8,418.4 L107.9,419.1 L99.2,409.7 L96.7,402.2 L90.4,394.7 L84.2,395.2 L78.0,404.7 L70.5,406.7 L63.1,399.7 L56.8,386.0 L50.6,369.8 L45.6,365.4 L30.7,366.1 L28.2,362.4 L38.2,349.9 L39.4,341.2 L44.4,331.3 L51.9,323.8 L54.4,317.1 L48.1,314.6 L43.9,302.6 L46.9,291.4 L59.3,282.7 L66.8,267.8 L70.5,260.8 L64.3,254.9 L68.0,247.9 L73.0,233.0 L81.7,223.0 L83.0,220.8 L82.5,204.6 L88.0,199.6 L95.4,193.0 L109.0,191.4 L112.0,187.0 L111.6,178.5 L119.0,164.8 L128.3,156.8 L129.0,138.7 L141.5,123.7 L143.2,116.8 L134.0,107.6 L132.3,100.0 L134.5,89.6 L141.5,87.6 L146.4,84.7 L145.7,77.2 L149.0,72.7 L155.0,73.2 L161.4,82.2 L163.9,81.4 L163.9,73.2 L162.6,67.7 L170.2,59.7 L175.2,51.6 L176.4,44.8 L182.0,39.2 L188.2,38.5 L190.1,31.1 L196.3,26.3 L202.6,25.1 L206.9,25.5 L210.0,28.6 L210.6,31.7 L214.4,30.5 L218.1,31.1 L220.0,36.1 L222.5,39.8 L229.9,39.8 L236.2,38.5 L241.1,36.1 L246.1,30.5 L250.5,26.3 L254.8,26.3 L257.9,30.5 L259.5,34.8 L259.8,43.5 L261.0,48.5 L262.3,52.9 L260.4,57.2 L259.5,64.1 L260.8,68.4 L260.8,75.9 L262.9,77.1 L262.3,82.7 L268.5,86.5 L274.7,88.3 L279.7,92.1 L289.7,97.0 L294.6,100.8 L303.6,103.4 L309.2,103.0 L313.6,99.2 L314.2,103.6 L312.7,105.5 L313.0,110.4 L314.8,116.7 L317.3,120.1 L334.1,119.8 L339.1,124.8Z"/></clipPath>
<g clip-path="url(#c1)">
<path d="M345.3,127.2 L353.9,129.7 L358.2,129.9 L362.0,127.3 L366.7,123.7 L369.0,121.0 L372.1,115.4 L375.8,110.4 L376.4,103.0 L376.1,100.0 L374.6,99.2 L371.7,95.1 L376.6,93.9 L384.1,92.6 L396.5,90.1 L401.5,81.4 L407.8,76.9 L415.2,76.4 L420.2,80.2 L427.7,81.4 L433.9,88.9 L443.8,96.4 L453.8,96.9 L462.5,90.9 L471.2,90.1 L477.4,95.1 L482.4,105.0 L484.9,113.8 L488.6,112.5 L494.9,107.0 L501.0,107.5 L508.5,117.5 L511.0,125.0 L509.8,137.4 L516.0,147.4 L524.0,154.8 L526.0,169.8 L531.0,184.7 L537.2,193.4 L537.9,200.9 L533.4,203.4 L521.0,199.6 L508.5,195.9 L501.0,196.4 L493.6,199.6 L483.7,205.9 L477.4,213.3 L475.0,220.8 L471.2,225.0 L475.0,230.5 L475.0,242.9 L463.8,251.6 L461.3,262.8 L451.3,272.8 L443.8,281.5 L442.6,290.2 L438.9,300.2 L442.6,315.1 L443.8,335.0 L445.6,345.0 L433.9,348.7 L432.6,356.2 L428.3,359.9 L429.9,366.3 L442.1,367.4 L446.4,371.1 L449.1,369.5 L458.1,369.5 L461.3,372.2 L461.9,381.2 L463.5,386.6 L461.9,389.8 L462.9,402.6 L461.9,406.8 L455.5,409.5 L453.9,414.3 L450.1,413.2 L440.5,411.6 L437.9,412.2 L439.5,415.4 L436.3,419.1 L431.5,422.8 L428.8,421.2 L430.4,415.4 L432.0,409.0 L432.0,403.1 L433.1,397.2 L432.0,390.8 L428.8,387.6 L424.5,390.3 L418.1,393.0 L417.1,400.4 L412.8,400.4 L406.4,391.9 L401.6,392.9 L396.3,396.7 L392.5,400.4 L390.9,403.6 L393.1,407.9 L393.6,411.1 L391.5,409.0 L386.1,409.5 L383.5,411.1 L379.7,406.8 L380.8,400.4 L382.4,397.2 L380.8,392.4 L384.5,390.8 L384.0,385.5 L377.6,378.0 L369.1,370.6 L361.6,364.2 L359.5,359.9 L358.2,358.4 L356.4,350.9 L355.7,343.4 L355.1,336.6 L351.4,332.2 L350.8,326.6 L348.9,322.9 L346.4,319.2 L342.7,321.7 L338.9,324.1 L335.2,324.1 L326.9,316.3 L311.9,314.6 L306.5,311.4 L307.0,292.7 L303.6,291.3 L304.2,285.1 L302.4,279.5 L295.5,279.2 L290.5,279.9 L274.4,278.9 L270.6,275.1 L272.5,270.8 L272.5,265.2 L266.9,267.7 L259.4,271.4 L252.0,275.1 L247.0,280.1 L243.5,285.2 L238.5,297.7 L231.1,315.1 L223.6,332.5 L216.1,339.5 L206.2,343.7 L196.2,349.9 L186.3,357.4 L181.3,374.8 L171.3,390.3 L160.1,401.7 L146.4,405.9 L131.5,408.4 L121.6,411.7 L112.8,418.4 L107.9,419.1 L99.2,409.7 L96.7,402.2 L90.4,394.7 L84.2,395.2 L78.0,404.7 L70.5,406.7 L63.1,399.7 L56.8,386.0 L50.6,369.8 L45.6,365.4 L30.7,366.1 L28.2,362.4 L38.2,349.9 L39.4,341.2 L44.4,331.3 L51.9,323.8 L54.4,317.1 L48.1,314.6 L43.9,302.6 L46.9,291.4 L59.3,282.7 L66.8,267.8 L70.5,260.8 L64.3,254.9 L68.0,247.9 L73.0,233.0 L81.7,223.0 L83.0,220.8 L82.5,204.6 L88.0,199.6 L95.4,193.0 L109.0,191.4 L112.0,187.0 L111.6,178.5 L119.0,164.8 L128.3,156.8 L129.0,138.7 L141.5,123.7 L143.2,116.8 L134.0,107.6 L132.3,100.0 L134.5,89.6 L141.5,87.6 L146.4,84.7 L145.7,77.2 L149.0,72.7 L155.0,73.2 L161.4,82.2 L163.9,81.4 L163.9,73.2 L162.6,67.7 L170.2,59.7 L175.2,51.6 L176.4,44.8 L182.0,39.2 L188.2,38.5 L190.1,31.1 L196.3,26.3 L202.6,25.1 L206.9,25.5 L210.0,28.6 L210.6,31.7 L214.4,30.5 L218.1,31.1 L220.0,36.1 L222.5,39.8 L229.9,39.8 L236.2,38.5 L241.1,36.1 L246.1,30.5 L250.5,26.3 L254.8,26.3 L257.9,30.5 L259.5,34.8 L259.8,43.5 L261.0,48.5 L262.3,52.9 L260.4,57.2 L259.5,64.1 L260.8,68.4 L260.8,75.9 L262.9,77.1 L262.3,82.7 L268.5,86.5 L274.7,88.3 L279.7,92.1 L289.7,97.0 L294.6,100.8 L303.6,103.4 L309.2,103.0 L313.6,99.2 L314.2,103.6 L312.7,105.5 L313.0,110.4 L314.8,116.7 L317.3,120.1 L334.1,119.8 L339.1,124.8Z" fill="#ffff00"/>
<path d="M272.5,265.2 L266.9,267.7 L259.4,271.4 L252.0,275.1 L247.0,280.1 L243.5,285.2 L238.5,297.7 L231.1,315.1 L223.6,332.5 L216.1,339.5 L206.2,343.7 L196.2,349.9 L186.3,357.4 L181.3,374.8 L171.3,390.3 L160.1,401.7 L146.4,405.9 L131.5,408.4 L121.6,411.7 L112.8,418.4 L107.9,419.1 L99.2,409.7 L96.7,402.2 L90.4,394.7 L84.2,395.2 L78.0,404.7 L70.5,406.7 L63.1,399.7 L56.8,386.0 L50.6,369.8 L45.6,365.4 L30.7,366.1 L28.2,362.4 L38.2,349.9 L39.4,341.2 L44.4,331.3 L51.9,323.8 L54.4,317.1 L48.1,314.6 L43.9,302.6 L46.9,291.4 L59.3,282.7 L66.8,267.8 L70.5,260.8 L64.3,254.9 L68.0,247.9 L73.0,233.0 L81.7,223.0 L83.0,220.8 L82.5,204.6 L88.0,199.6 L95.4,193.0 L109.0,191.4 L112.0,187.0 L111.6,178.5 L119.0,164.8 L128.3,156.8 L129.0,138.7 L141.5,123.7 L143.2,116.8 L134.0,107.6 L132.3,100.0 L134.5,89.6 L141.5,87.6 L146.4,84.7 L145.7,77.2 L149.0,72.7 L155.0,73.2 L161.4,82.2 L163.9,81.4 L163.9,73.2 L162.6,67.7 L170.2,59.7 L175.2,51.6 L176.4,44.8 L182.0,39.2 L188.2,38.5 L190.1,31.1 L196.3,26.3 L202.6,25.1 L206.9,25.5 L210.0,28.6 L210.6,31.7 L214.4,30.5 L218.1,31.1 L220.0,36.1 L222.5,39.8 L229.9,39.8 L236.2,38.5 L241.1,36.1 L246.1,30.5 L250.5,26.3 L254.8,26.3 L257.9,30.5 L259.5,34.8 L259.8,43.5 L261.0,48.5 L262.3,52.9 L260.4,57.2 L259.5,64.1 L260.8,68.4 L260.8,75.9 L262.9,77.1 L262.3,82.7 L268.5,86.5 L274.7,88.3 L279.7,92.1 L289.7,97.0 L294.6,100.8 L303.6,103.4 L309.2,103.0 L313.6,99.2 L314.2,103.6 L312.7,105.5 L313.0,110.4 L314.8,116.7 L317.3,120.1 L334.1,119.8 L339.1,124.8 L345.3,127.2 L343.5,134.1 L345.3,137.2 L350.3,141.6 L356.5,145.9 L354.7,149.0 L356.5,160.2 L356.5,173.3 L367.7,178.9 L372.7,185.1 L377.1,192.0 L377.6,198.0 L366.4,203.0 L360.2,209.2 L352.8,216.0 L349.0,216.6 L348.4,228.5 L340.3,227.8 L337.8,227.8 L332.8,231.0 L322.9,231.0 L316.7,227.8 L309.8,227.6 L303.0,232.2 L293.6,227.8 L291.8,227.2 L288.0,231.6 L287.4,235.9 L279.3,242.8 L273.7,247.8 L271.5,251.5 L271.9,255.8 L275.3,259.0 L275.0,261.2Z" fill="#00ff00" stroke="#000" stroke-width="1.3"/>
<path d="M162.3,84.7 L165.5,67.2 L144.4,67.2 L124.5,84.7 L127.0,109.6 L137.3,111.2 L142.9,116.2 L148.5,109.9 L151.6,104.3 L154.7,98.7 L158.5,95.0 L164.3,86.7Z" fill="#008000" stroke="#000" stroke-width="1.3" stroke-linejoin="round"/>
<path d="M108.7,191.0 L109.3,193.3 L109.9,198.3 L111.2,205.0 L110.6,202.5 L111.2,213.7 L109.9,223.6 L107.4,232.3 L106.2,236.1 L100.0,239.8 L95.0,246.0 L93.4,259.8 L87.1,274.8 L90.9,283.5 L104.6,289.7 L107.5,295.9 L103.3,304.6 L97.1,310.9 L89.6,315.8 L77.2,320.8 L67.2,329.5 L61.0,339.5 L58.5,351.9 L57.3,359.4 L51.0,369.4 L48.0,374.0 L18.0,374.0 L18.0,250.0 L80.0,185.0Z" fill="#008000" stroke="#000" stroke-width="1.3" stroke-linejoin="round"/>
<path d="M175.6,49.8 L181.2,51.1 L187.4,54.2 L196.1,54.2 L201.1,51.1 L206.1,49.2 L214.2,49.2 L215.4,53.6 L217.3,58.6 L220.4,64.8 L222.9,69.1 L231.0,69.1 L239.7,62.9 L244.0,61.0 L249.6,61.7 L254.6,63.5 L259.4,64.2 L264.6,64.8 L264.6,76.0 L260.6,76.0 L255.9,77.2 L245.9,81.0 L237.2,84.1 L227.9,87.2 L223.5,84.7 L217.3,83.4 L211.1,82.8 L205.5,86.6 L203.0,93.4 L204.8,99.0 L209.8,103.4 L219.8,104.0 L224.8,102.7 L236.0,102.1 L244.7,100.9 L250.9,101.5 L255.9,104.6 L256.5,107.7 L252.1,112.1 L243.4,115.2 L229.7,118.3 L221.0,122.0 L216.3,123.6 L212.0,131.1 L209.5,136.7 L203.3,141.0 L200.8,144.8 L199.5,152.2 L198.3,161.0 L193.3,165.9 L184.6,167.8 L178.4,170.9 L174.0,177.1 L166.6,175.9 L161.0,170.9 L156.6,164.7 L153.5,159.7 L154.1,156.0 L159.1,148.5 L158.5,142.3 L159.1,136.1 L162.8,127.4 L164.7,119.9 L169.0,112.4 L169.7,102.5 L170.3,95.0 L169.3,89.6 L164.3,86.7 L162.3,84.7 L158.0,82.0 L156.0,67.0 L166.0,52.0 L172.0,49.0Z" fill="#008000" stroke="#000" stroke-width="1.3" stroke-linejoin="round"/>
<path d="M214.2,49.2 L214.8,46.1 L221.0,39.3 L229.7,38.6 L236.0,37.4 L240.9,35.5 L241.6,39.9 L247.2,45.5 L246.5,49.8 L244.0,54.8 L244.0,61.0 L239.7,62.9 L231.0,69.1 L222.9,69.1 L220.4,64.8 L217.3,58.6 L215.4,53.6Z" fill="#0000ff" stroke="#000" stroke-width="1.3" stroke-linejoin="round"/>
<path d="M240.9,36.8 L244.7,29.9 L250.3,24.7 L255.2,24.7 L259.4,29.9 L261.1,34.9 L261.3,43.6 L254.6,44.2 L247.2,45.5 L241.6,39.9Z" fill="#008000" stroke="#000" stroke-width="1.3" stroke-linejoin="round"/>
<path d="M247.2,45.5 L254.6,44.2 L261.3,43.6 L262.7,48.6 L264.0,53.0 L262.1,57.3 L261.1,64.2 L254.6,63.5 L249.6,61.7 L244.0,61.0 L244.0,54.8 L246.5,49.8Z" fill="#00ff80" stroke="#000" stroke-width="1.3" stroke-linejoin="round"/>
<path d="M51.0,369.4 L59.8,366.9 L64.7,360.6 L77.2,354.4 L84.6,344.5 L95.8,335.8 L107.0,325.8 L117.0,317.1 L124.5,312.1 L129.4,310.9 L136.9,314.1 L143.1,312.6 L151.8,309.1 L164.3,305.9 L176.7,299.7 L183.0,295.9 L184.2,287.2 L187.1,286.5 L190.8,284.0 L194.6,284.0 L198.3,287.7 L204.5,287.1 L207.0,280.9 L212.0,280.2 L218.2,276.5 L224.4,275.9 L227.4,276.5 L229.9,270.9 L238.6,267.2 L244.9,264.1 L248.6,261.0 L258.6,256.6 L269.8,254.1 L273.5,256.0 L276.6,258.5 L276.0,261.6 L273.5,265.3 L270.0,276.0 L200.0,385.0 L150.0,432.0 L60.0,432.0 L40.0,392.0Z" fill="#ffff00" stroke="#000" stroke-width="1.3" stroke-linejoin="round"/>
<path d="M304.0,103.7 L304.0,108.7 L300.9,114.9 L294.6,119.9 L288.4,124.2 L277.2,129.8 L263.5,137.3 L252.3,143.5 L243.6,148.5 L239.3,153.5 L237.4,159.7 L236.2,167.2 L234.9,173.4 L226.5,182.8 L219.5,189.6 L213.0,195.5 L209.5,199.4 L200.8,206.8 L193.3,215.5 L184.6,226.1 L174.6,237.9 L171.5,242.9 L180.9,240.4 L192.1,240.4 L195.8,244.2 L195.8,258.5 L199.5,264.1 L204.5,264.1 L212.0,261.0 L219.4,257.8 L226.9,255.4 L222.5,256.6 L231.2,252.2 L237.4,247.3 L246.1,241.7 L248.6,242.9 L253.6,249.8 L258.6,256.6 L269.8,254.1 L272.2,252.9 L277.2,246.0 L284.7,238.6 L289.0,233.6 L289.7,231.1 L292.8,228.0 L299.6,221.8 L297.1,216.2 L292.8,209.9 L293.4,207.4 L297.1,202.5 L304.6,196.2 L305.8,194.6 L308.3,189.6 L309.0,182.1 L308.3,175.9 L305.8,172.2 L305.8,165.9 L314.6,156.0 L313.3,152.2 L312.7,142.9 L322.0,131.1 L328.2,121.1 L318.3,118.6 L315.8,113.7 L313.9,107.4 L315.8,103.7 L315.8,98.1 L311.4,98.1 L304.0,102.5Z" fill="#0000ff" stroke="#000" stroke-width="1.3" stroke-linejoin="round"/>
<path d="M209.5,136.7 L213.2,140.4 L218.2,147.3 L224.4,154.1 L223.8,159.1 L217.0,162.2 L207.0,167.2 L200.8,172.2 L197.0,176.5 L198.3,180.9 L204.5,187.1 L212.0,194.6 L209.5,199.4 L200.8,206.8 L193.3,215.5 L187.1,211.8 L179.6,207.4 L173.4,201.2 L169.7,195.0 L169.7,184.6 L171.5,177.8 L174.0,177.1 L178.4,170.9 L184.6,167.8 L193.3,165.9 L198.3,161.0 L199.5,152.2 L200.8,144.8 L203.3,141.0Z" fill="#8000ff" stroke="#000" stroke-width="1.3" stroke-linejoin="round"/>
<path d="M263.5,137.3 L266.0,142.3 L265.4,156.0 L256.1,159.7 L244.9,165.9 L236.2,167.2 L237.4,159.7 L239.3,153.5 L243.6,148.5 L252.3,143.5Z" fill="#00ff00" stroke="#000" stroke-width="1.3" stroke-linejoin="round"/>
<path d="M263.5,137.3 L288.4,124.2 L293.4,131.1 L292.8,137.3 L284.7,141.0 L266.6,147.3 L266.0,142.3Z" fill="#8000ff" stroke="#000" stroke-width="1.3" stroke-linejoin="round"/>
<path d="M236.2,167.2 L244.9,165.9 L256.1,159.7 L265.4,156.0 L273.5,162.8 L282.2,165.3 L282.2,175.9 L279.7,178.4 L268.5,179.6 L261.0,185.8 L258.6,192.1 L256.1,198.3 L249.8,205.0 L248.0,206.8 L241.8,210.6 L236.2,203.1 L231.2,199.4 L222.5,203.7 L218.2,207.4 L211.4,198.7 L213.0,195.5 L219.5,189.6 L226.5,182.8 L234.9,173.4Z" fill="#00ffff" stroke="#000" stroke-width="1.3" stroke-linejoin="round"/>
<path d="M279.7,178.4 L278.5,187.1 L274.7,194.6 L268.5,202.0 L271.6,198.7 L264.8,205.0 L262.3,206.2 L249.8,205.6 L256.1,198.3 L258.6,192.1 L261.0,185.8 L268.5,179.6Z" fill="url(#teal)" stroke="#000" stroke-width="1.3" stroke-linejoin="round"/>
<path d="M205.8,224.9 L217.6,209.3 L231.2,199.4 L236.2,203.1 L241.8,210.6 L231.2,219.9 L224.4,226.1 L218.2,232.3 L215.1,235.4 L207.0,228.6Z" fill="#8000ff" stroke="#000" stroke-width="1.3" stroke-linejoin="round"/>
<path d="M133.0,277.1 L134.8,270.9 L139.2,265.9 L140.4,259.7 L145.4,256.0 L150.4,256.0 L156.0,258.5 L162.2,259.1 L162.2,262.2 L158.5,267.2 L153.5,271.5 L151.0,274.0 L151.6,276.5 L153.5,277.8 L152.2,280.9 L149.1,284.0 L142.3,279.6 L137.3,277.1Z" fill="#8000ff" stroke="#000" stroke-width="1.3" stroke-linejoin="round"/>
<path d="M174.6,237.9 L180.9,240.4 L192.1,240.4 L195.8,244.2 L195.8,258.5 L199.5,264.1 L204.5,264.1 L212.0,261.0 L219.4,257.8 L226.9,255.4 L222.5,256.6 L231.2,252.2 L237.4,247.3 L246.1,241.7 L248.6,242.9 L253.6,249.8 L258.6,256.6 L248.6,261.0 L244.9,264.1 L238.6,267.2 L229.9,270.9 L227.4,276.5 L224.4,275.9 L218.2,276.5 L212.0,280.2 L207.0,280.9 L204.5,287.1 L198.3,287.7 L194.6,284.0 L190.8,284.0 L187.1,286.5 L183.4,287.1 L182.7,282.1 L179.6,277.1 L175.9,270.9 L172.2,267.8 L166.6,267.8 L162.2,271.5 L157.2,276.5 L151.6,276.5 L151.0,274.0 L153.5,271.5 L158.5,267.2 L162.2,262.2 L164.7,256.0 L169.7,248.5 L171.5,242.9Z" fill="#8000ff" stroke="#000" stroke-width="1.3" stroke-linejoin="round"/>
<path d="M133.0,277.1 L137.3,277.1 L142.3,279.6 L149.1,284.0 L151.0,287.1 L151.0,294.6 L148.5,300.8 L146.9,304.6 L143.1,312.6 L136.9,314.1 L129.4,310.9 L124.5,312.1 L122.0,310.9 L125.5,297.0 L128.0,287.1 L129.8,280.9Z" fill="#008000" stroke="#000" stroke-width="1.3" stroke-linejoin="round"/>
<path d="M432.4,89.9 L434.9,84.9 L457.3,84.9 L472.3,84.9 L484.7,101.1 L487.2,109.8 L494.7,102.3 L504.6,103.6 L514.6,119.7 L514.6,134.7 L515.8,145.9 L514.0,147.7 L509.6,151.5 L505.9,154.6 L498.4,155.2 L492.2,160.8 L486.0,166.4 L478.5,167.6 L470.0,172.2 L468.2,177.1 L470.0,180.9 L468.8,185.2 L461.9,189.6 L459.4,193.9 L454.5,188.3 L452.0,180.9 L449.5,173.4 L445.8,169.7 L442.0,164.7 L435.8,161.0 L433.3,156.6 L428.3,152.2 L419.6,152.2 L418.4,159.7 L415.9,164.1 L415.3,168.4 L417.8,172.8 L418.4,177.1 L414.0,180.9 L412.2,185.8 L404.7,186.5 L402.8,188.3 L399.7,184.6 L397.2,180.9 L392.9,175.9 L392.9,169.7 L389.1,167.2 L385.4,163.4 L381.0,162.8 L376.7,162.8 L377.3,158.5 L380.4,157.2 L382.3,149.8 L384.2,144.2 L388.5,139.8 L389.8,136.7 L391.6,128.0 L394.1,128.0 L404.7,133.6 L412.2,138.6 L417.1,141.0 L419.6,137.3 L420.9,129.8 L424.0,124.2 L423.4,120.5 L420.9,116.2 L419.6,108.7 L423.4,103.7 L428.3,101.8 L430.8,95.0 L430.6,96.1Z" fill="url(#brown)" stroke="#000" stroke-width="1.3" stroke-linejoin="round"/>
<path d="M363.0,136.7 L372.3,129.2 L377.3,126.7 L381.0,128.6 L384.8,133.6 L389.8,136.7 L388.5,139.8 L384.2,144.2 L382.3,149.8 L380.4,157.2 L377.3,158.5 L372.3,153.5 L367.4,149.8 L364.2,147.3 L362.4,144.2Z" fill="url(#gray)" stroke="#000" stroke-width="1.3" stroke-linejoin="round"/>
<path d="M358.0,146.0 L361.8,144.2 L364.2,147.3 L367.4,149.8 L372.3,153.5 L377.3,158.5 L376.7,162.8 L374.8,167.8 L377.3,172.2 L381.0,177.8 L384.8,184.6 L388.5,190.8 L386.0,194.6 L384.8,197.7 L379.2,197.7 L377.3,193.3 L374.8,187.1 L371.1,182.1 L364.9,177.8 L360.5,174.6 L356.8,172.8 L356.2,164.7 L356.8,157.2 L354.9,149.8Z" fill="#ff0000" stroke="#000" stroke-width="1.3" stroke-linejoin="round"/>
<path d="M374.8,167.8 L376.7,164.1 L381.0,162.8 L385.4,163.4 L389.1,167.2 L392.9,169.7 L392.9,175.9 L397.2,180.9 L399.7,184.6 L402.8,188.3 L402.2,190.8 L388.5,190.8 L384.8,184.6 L381.0,177.8 L377.3,172.2Z" fill="url(#gray)" stroke="#000" stroke-width="1.3" stroke-linejoin="round"/>
<path d="M388.5,190.8 L402.2,190.8 L404.7,193.3 L407.2,197.7 L410.9,198.9 L410.3,201.8 L399.7,211.2 L399.1,214.3 L396.0,213.7 L393.5,211.2 L388.5,203.7 L383.5,199.4 L384.8,197.7 L386.0,194.6Z" fill="#ff8040" stroke="#000" stroke-width="1.3" stroke-linejoin="round"/>
<path d="M345.6,128.0 L347.4,126.1 L353.7,128.0 L358.0,128.0 L361.8,125.5 L367.4,119.9 L371.7,117.4 L375.4,121.1 L376.7,126.1 L372.3,129.2 L363.0,136.7 L361.8,144.2 L358.0,146.0 L354.9,142.9 L349.9,139.8 L345.0,136.1 L344.3,132.3Z" fill="#ff0080" stroke="#000" stroke-width="1.3" stroke-linejoin="round"/>
<path d="M328.2,121.1 L332.0,118.0 L335.1,118.6 L339.4,123.6 L338.7,123.6 L345.6,126.7 L345.6,128.0 L344.3,132.3 L345.0,136.1 L340.0,141.0 L334.5,144.8 L327.0,147.3 L322.0,151.0 L314.6,156.0 L313.3,152.2 L312.7,142.9 L322.0,131.1Z" fill="#00ffff" stroke="#000" stroke-width="1.3" stroke-linejoin="round"/>
<path d="M314.6,156.0 L322.0,151.0 L327.0,147.3 L334.5,144.8 L340.0,141.0 L345.0,136.1 L349.9,139.8 L354.9,142.9 L358.0,146.0 L354.9,149.8 L356.8,157.2 L356.2,164.7 L356.8,172.8 L351.2,176.5 L351.3,175.9 L339.4,168.4 L332.0,164.7 L314.6,172.8 L308.3,175.9 L305.8,172.2 L305.8,165.9Z" fill="#00ffff" stroke="#000" stroke-width="1.3" stroke-linejoin="round"/>
<path d="M308.3,175.9 L314.6,172.8 L332.0,164.7 L339.4,168.4 L351.3,175.9 L348.2,182.1 L339.4,192.1 L330.7,202.0 L328.2,202.0 L318.3,193.3 L310.8,189.0 L308.3,188.3 L309.0,182.1Z" fill="#ff0000" stroke="#000" stroke-width="1.3" stroke-linejoin="round"/>
<path d="M351.2,176.5 L356.8,172.8 L360.5,174.6 L358.0,182.1 L353.7,187.1 L352.4,192.1 L351.2,197.0 L340.0,202.0 L333.2,205.6 L328.9,204.7 L329.5,201.8 L330.7,202.0 L339.4,192.1 L348.2,182.1 L351.3,175.9Z" fill="#ffff00" stroke="#000" stroke-width="1.3" stroke-linejoin="round"/>
<path d="M360.5,174.6 L364.9,177.8 L371.1,182.1 L374.8,187.1 L377.3,193.3 L373.6,190.8 L368.6,193.3 L366.7,197.0 L368.0,200.8 L367.4,202.5 L361.1,207.4 L353.7,216.2 L349.9,216.2 L346.9,213.7 L339.4,208.7 L333.2,206.0 L340.0,202.0 L351.2,197.0 L352.4,192.1 L353.7,187.1 L358.0,182.1Z" fill="#00ffff" stroke="#000" stroke-width="1.3" stroke-linejoin="round"/>
<path d="M368.6,193.3 L373.6,190.8 L376.7,192.7 L377.3,198.3 L374.8,200.8 L368.0,200.8 L366.7,197.0Z" fill="#ffff00" stroke="#000" stroke-width="1.3" stroke-linejoin="round"/>
<path d="M349.9,216.2 L353.7,216.2 L361.1,207.4 L367.4,202.5 L374.8,198.7 L383.5,199.4 L388.5,203.7 L393.5,211.2 L396.0,213.7 L399.1,214.3 L399.7,211.2 L410.3,201.8 L412.8,202.5 L414.6,212.4 L420.9,219.3 L411.5,229.2 L410.3,230.5 L401.0,232.3 L393.5,236.1 L391.0,237.3 L385.4,237.3 L386.0,228.6 L382.9,224.2 L379.8,224.9 L378.6,228.6 L381.0,233.6 L381.7,239.8 L379.2,239.8 L373.6,237.9 L361.1,237.9 L354.9,241.0 L351.8,241.7 L350.6,238.6 L349.3,233.6 L348.1,227.6 L348.7,219.9Z" fill="#ff0080" stroke="#000" stroke-width="1.3" stroke-linejoin="round"/>
<path d="M304.6,196.2 L307.1,202.5 L309.6,205.6 L309.0,210.6 L299.6,218.0 L297.1,216.2 L292.8,209.9 L293.4,207.4 L297.1,202.5Z" fill="#00ffff" stroke="#000" stroke-width="1.3" stroke-linejoin="round"/>
<path d="M308.3,189.6 L310.8,189.0 L318.3,193.3 L320.8,195.0 L325.8,200.0 L328.9,202.5 L328.9,204.3 L318.3,205.6 L315.2,208.7 L314.6,214.9 L315.8,221.1 L315.2,226.1 L309.6,226.7 L305.8,228.6 L303.4,231.1 L294.0,228.0 L299.6,221.8 L299.6,218.0 L309.0,210.6 L309.6,205.6 L307.1,202.5 L304.8,196.0Z" fill="#00ffff" stroke="#000" stroke-width="1.3" stroke-linejoin="round"/>
<path d="M318.3,205.6 L328.9,204.7 L333.2,206.0 L339.4,208.7 L346.9,213.7 L349.4,216.8 L348.8,221.8 L348.2,227.1 L340.7,227.1 L336.3,227.6 L332.0,230.5 L324.5,230.5 L319.5,228.0 L315.2,226.1 L315.8,221.1 L314.6,214.9 L315.2,208.7Z" fill="#0000ff" stroke="#000" stroke-width="1.3" stroke-linejoin="round"/>
<path d="M324.5,231.1 L332.0,230.8 L336.3,228.0 L340.7,227.6 L348.2,227.6 L349.4,233.6 L350.6,239.2 L351.9,241.7 L346.9,242.9 L338.2,242.9 L334.5,244.2 L329.5,246.6 L327.6,241.7 L325.8,236.1 L323.3,233.0Z" fill="#ff8040" stroke="#000" stroke-width="1.3" stroke-linejoin="round"/>
<path d="M292.8,228.0 L294.0,228.0 L303.4,231.1 L307.1,234.2 L312.1,236.7 L314.6,242.3 L317.0,248.5 L317.7,252.9 L313.9,256.0 L314.6,259.7 L317.0,264.7 L316.4,267.8 L312.1,269.7 L310.8,272.8 L313.3,275.9 L313.3,278.4 L302.1,280.9 L290.9,281.5 L274.7,280.6 L269.8,275.9 L272.2,269.7 L273.5,265.3 L276.0,261.6 L276.6,258.5 L273.5,256.0 L272.2,252.9 L277.2,246.0 L284.7,238.6 L289.0,233.6 L289.7,231.1Z" fill="#ff0000" stroke="#000" stroke-width="1.3" stroke-linejoin="round"/>
<path d="M420.9,219.3 L424.6,223.6 L429.6,228.0 L437.0,229.8 L441.4,232.3 L442.0,238.6 L445.8,243.5 L452.0,245.4 L458.2,249.1 L463.2,251.0 L465.0,253.5 L464.4,259.7 L460.1,267.2 L452.6,274.6 L445.8,280.9 L443.3,287.1 L442.6,294.6 L441.4,300.0 L443.3,307.4 L445.1,314.9 L445.1,325.5 L427.7,324.9 L422.1,321.8 L418.4,320.5 L421.5,313.7 L423.4,308.7 L420.9,306.8 L420.9,301.8 L417.8,295.0 L419.6,297.0 L418.4,287.1 L417.8,274.6 L414.0,269.7 L413.4,259.7 L415.9,254.7 L419.6,249.1 L424.6,248.5 L427.1,251.0 L430.8,250.4 L428.3,244.2 L425.2,236.1 L420.9,235.4 L415.9,236.7 L410.9,234.2 L411.5,229.2Z" fill="#ff0080" stroke="#000" stroke-width="1.3" stroke-linejoin="round"/>
<path d="M414.0,269.7 L417.8,274.6 L418.4,287.1 L419.6,297.0 L417.8,295.0 L420.9,301.8 L420.9,306.8 L416.5,308.1 L412.2,311.2 L407.2,313.0 L402.2,309.9 L397.2,305.6 L397.2,303.1 L402.2,300.0 L402.8,295.8 L398.5,292.1 L393.5,287.1 L389.8,280.9 L390.4,274.6 L391.6,267.2 L393.5,263.4 L396.0,263.4 L397.2,267.2 L399.7,267.2 L402.8,264.7 L405.9,265.9 L408.4,270.3Z" fill="#ff8040" stroke="#000" stroke-width="1.3" stroke-linejoin="round"/>
<path d="M302.1,279.6 L313.3,278.4 L313.3,275.9 L315.8,275.9 L322.0,277.1 L327.0,280.9 L332.0,282.1 L337.6,288.3 L340.7,290.8 L341.9,298.3 L346.9,300.8 L345.6,300.6 L346.8,307.4 L345.6,313.7 L346.2,319.3 L342.5,323.0 L338.7,325.5 L335.0,325.5 L334.8,329.5 L324.8,322.1 L312.4,318.3 L303.7,314.6 L305.2,305.0 L305.2,294.6 L302.1,290.8 L302.1,284.6 L300.9,280.2Z" fill="#ff0080" stroke="#000" stroke-width="1.3" stroke-linejoin="round"/>
<path d="M346.8,300.2 L351.2,291.4 L361.8,290.8 L361.1,297.0 L363.0,298.7 L368.0,303.7 L371.1,309.3 L369.2,314.9 L364.2,318.0 L357.4,319.3 L354.3,323.0 L351.2,327.4 L348.1,325.5 L345.2,321.1 L346.2,319.3 L345.6,313.7 L346.8,307.4 L345.6,300.6Z" fill="#ff0000" stroke="#000" stroke-width="1.3" stroke-linejoin="round"/>
<path d="M361.8,290.8 L364.9,287.1 L373.6,286.5 L377.3,292.1 L379.2,298.3 L379.8,301.8 L381.0,306.8 L387.3,309.3 L392.2,313.7 L394.1,319.9 L397.2,326.1 L398.5,331.1 L396.0,334.8 L396.0,340.4 L389.8,341.7 L387.3,344.2 L384.2,343.5 L377.3,340.4 L367.4,337.9 L359.9,336.1 L354.9,336.7 L348.1,333.8 L347.4,326.7 L351.2,326.1 L354.3,323.0 L357.4,319.3 L364.2,318.0 L369.2,314.9 L371.1,309.3 L368.0,303.7 L363.0,298.7 L361.1,297.0Z" fill="#ff8040" stroke="#000" stroke-width="1.3" stroke-linejoin="round"/>
<path d="M354.9,336.7 L359.9,336.1 L367.4,337.9 L377.3,340.4 L384.2,343.5 L387.3,344.2 L389.8,341.7 L396.0,340.4 L398.5,344.2 L399.1,349.1 L396.0,349.8 L392.2,352.9 L388.5,354.1 L386.0,357.2 L381.0,360.3 L374.8,360.3 L372.3,356.0 L368.0,352.9 L364.9,354.7 L361.1,362.2 L359.3,364.1 L355.9,359.1 L354.0,351.0 L353.4,343.5 L352.4,336.7Z" fill="url(#gray)" stroke="#000" stroke-width="1.3" stroke-linejoin="round"/>
<path d="M399.7,333.0 L405.3,332.3 L407.2,327.4 L410.9,324.2 L418.4,320.5 L422.1,321.8 L427.7,324.9 L445.1,325.5 L446.0,332.3 L447.2,341.0 L446.6,347.9 L437.0,349.4 L434.6,349.8 L430.8,348.5 L427.1,344.8 L423.4,342.9 L417.1,342.3 L409.7,344.2 L405.9,348.5 L403.4,351.6 L399.1,349.1 L398.5,344.2 L396.0,340.4 L396.0,334.8 L398.5,331.1Z" fill="url(#gray)" stroke="#000" stroke-width="1.3" stroke-linejoin="round"/>
<path d="M403.4,351.6 L405.9,348.5 L409.7,344.2 L417.1,342.3 L423.4,342.9 L427.1,344.8 L430.8,348.5 L434.6,349.8 L436.4,350.4 L435.2,356.6 L432.3,362.0 L428.3,360.3 L426.5,357.2 L422.1,356.0 L415.9,356.0 L410.9,358.5 L407.2,361.0 L404.7,358.5Z" fill="#ff8040" stroke="#000" stroke-width="1.3" stroke-linejoin="round"/>
<path d="M398.5,363.4 L404.7,362.2 L407.2,361.0 L410.9,358.5 L415.9,356.0 L422.1,356.0 L426.5,357.2 L428.3,360.3 L430.2,364.7 L437.0,365.7 L443.3,366.9 L446.4,369.4 L448.2,368.2 L458.8,368.2 L462.9,372.8 L463.6,382.1 L464.8,385.8 L463.3,389.9 L464.3,402.7 L462.9,408.0 L455.3,411.2 L451.5,406.4 L451.5,404.3 L448.9,401.1 L449.9,396.3 L451.5,390.4 L443.5,387.7 L438.2,384.5 L432.9,387.7 L431.8,390.9 L429.7,392.0 L424.9,392.0 L419.5,394.1 L418.5,402.1 L411.5,402.1 L405.1,393.6 L401.4,394.1 L400.9,388.8 L399.8,379.2 L400.3,370.7Z" fill="url(#gray)" stroke="#000" stroke-width="1.3" stroke-linejoin="round"/>
<path d="M438.2,384.5 L443.5,387.7 L451.5,390.4 L449.9,396.3 L448.9,401.1 L451.5,404.3 L451.5,406.4 L440.3,405.9 L431.8,403.2 L430.2,403.2 L431.3,397.3 L430.2,390.9 L432.9,387.7Z" fill="#88fffa" stroke="#000" stroke-width="1.3" stroke-linejoin="round"/>
<path d="M431.8,403.2 L440.3,405.9 L451.5,406.4 L456.3,409.1 L455.3,415.5 L449.9,414.4 L440.3,412.8 L438.7,412.8 L440.3,416.0 L436.6,420.3 L431.3,424.5 L427.0,421.9 L428.8,415.5 L430.2,409.1 L430.2,403.2Z" fill="#8000ff" stroke="#000" stroke-width="1.3" stroke-linejoin="round"/>
</g>
<path d="M345.3,127.2 L353.9,129.7 L358.2,129.9 L362.0,127.3 L366.7,123.7 L369.0,121.0 L372.1,115.4 L375.8,110.4 L376.4,103.0 L376.1,100.0 L374.6,99.2 L371.7,95.1 L376.6,93.9 L384.1,92.6 L396.5,90.1 L401.5,81.4 L407.8,76.9 L415.2,76.4 L420.2,80.2 L427.7,81.4 L433.9,88.9 L443.8,96.4 L453.8,96.9 L462.5,90.9 L471.2,90.1 L477.4,95.1 L482.4,105.0 L484.9,113.8 L488.6,112.5 L494.9,107.0 L501.0,107.5 L508.5,117.5 L511.0,125.0 L509.8,137.4 L516.0,147.4 L524.0,154.8 L526.0,169.8 L531.0,184.7 L537.2,193.4 L537.9,200.9 L533.4,203.4 L521.0,199.6 L508.5,195.9 L501.0,196.4 L493.6,199.6 L483.7,205.9 L477.4,213.3 L475.0,220.8 L471.2,225.0 L475.0,230.5 L475.0,242.9 L463.8,251.6 L461.3,262.8 L451.3,272.8 L443.8,281.5 L442.6,290.2 L438.9,300.2 L442.6,315.1 L443.8,335.0 L445.6,345.0 L433.9,348.7 L432.6,356.2 L428.3,359.9 L429.9,366.3 L442.1,367.4 L446.4,371.1 L449.1,369.5 L458.1,369.5 L461.3,372.2 L461.9,381.2 L463.5,386.6 L461.9,389.8 L462.9,402.6 L461.9,406.8 L455.5,409.5 L453.9,414.3 L450.1,413.2 L440.5,411.6 L437.9,412.2 L439.5,415.4 L436.3,419.1 L431.5,422.8 L428.8,421.2 L430.4,415.4 L432.0,409.0 L432.0,403.1 L433.1,397.2 L432.0,390.8 L428.8,387.6 L424.5,390.3 L418.1,393.0 L417.1,400.4 L412.8,400.4 L406.4,391.9 L401.6,392.9 L396.3,396.7 L392.5,400.4 L390.9,403.6 L393.1,407.9 L393.6,411.1 L391.5,409.0 L386.1,409.5 L383.5,411.1 L379.7,406.8 L380.8,400.4 L382.4,397.2 L380.8,392.4 L384.5,390.8 L384.0,385.5 L377.6,378.0 L369.1,370.6 L361.6,364.2 L359.5,359.9 L358.2,358.4 L356.4,350.9 L355.7,343.4 L355.1,336.6 L351.4,332.2 L350.8,326.6 L348.9,322.9 L346.4,319.2 L342.7,321.7 L338.9,324.1 L335.2,324.1 L326.9,316.3 L311.9,314.6 L306.5,311.4 L307.0,292.7 L303.6,291.3 L304.2,285.1 L302.4,279.5 L295.5,279.2 L290.5,279.9 L274.4,278.9 L270.6,275.1 L272.5,270.8 L272.5,265.2 L266.9,267.7 L259.4,271.4 L252.0,275.1 L247.0,280.1 L243.5,285.2 L238.5,297.7 L231.1,315.1 L223.6,332.5 L216.1,339.5 L206.2,343.7 L196.2,349.9 L186.3,357.4 L181.3,374.8 L171.3,390.3 L160.1,401.7 L146.4,405.9 L131.5,408.4 L121.6,411.7 L112.8,418.4 L107.9,419.1 L99.2,409.7 L96.7,402.2 L90.4,394.7 L84.2,395.2 L78.0,404.7 L70.5,406.7 L63.1,399.7 L56.8,386.0 L50.6,369.8 L45.6,365.4 L30.7,366.1 L28.2,362.4 L38.2,349.9 L39.4,341.2 L44.4,331.3 L51.9,323.8 L54.4,317.1 L48.1,314.6 L43.9,302.6 L46.9,291.4 L59.3,282.7 L66.8,267.8 L70.5,260.8 L64.3,254.9 L68.0,247.9 L73.0,233.0 L81.7,223.0 L83.0,220.8 L82.5,204.6 L88.0,199.6 L95.4,193.0 L109.0,191.4 L112.0,187.0 L111.6,178.5 L119.0,164.8 L128.3,156.8 L129.0,138.7 L141.5,123.7 L143.2,116.8 L134.0,107.6 L132.3,100.0 L134.5,89.6 L141.5,87.6 L146.4,84.7 L145.7,77.2 L149.0,72.7 L155.0,73.2 L161.4,82.2 L163.9,81.4 L163.9,73.2 L162.6,67.7 L170.2,59.7 L175.2,51.6 L176.4,44.8 L182.0,39.2 L188.2,38.5 L190.1,31.1 L196.3,26.3 L202.6,25.1 L206.9,25.5 L210.0,28.6 L210.6,31.7 L214.4,30.5 L218.1,31.1 L220.0,36.1 L222.5,39.8 L229.9,39.8 L236.2,38.5 L241.1,36.1 L246.1,30.5 L250.5,26.3 L254.8,26.3 L257.9,30.5 L259.5,34.8 L259.8,43.5 L261.0,48.5 L262.3,52.9 L260.4,57.2 L259.5,64.1 L260.8,68.4 L260.8,75.9 L262.9,77.1 L262.3,82.7 L268.5,86.5 L274.7,88.3 L279.7,92.1 L289.7,97.0 L294.6,100.8 L303.6,103.4 L309.2,103.0 L313.6,99.2 L314.2,103.6 L312.7,105.5 L313.0,110.4 L314.8,116.7 L317.3,120.1 L334.1,119.8 L339.1,124.8Z" fill="none" stroke="#000" stroke-width="1.5" stroke-linejoin="round"/>
<path d="M304.0,103.7 L304.0,108.7 L300.9,114.9 L294.6,119.9 L288.4,124.2 L277.2,129.8 L263.5,137.3 L252.3,143.5 L243.6,148.5 L239.3,153.5 L237.4,159.7 L236.2,167.2 L234.9,173.4 L226.5,182.8 L219.5,189.6 L213.0,195.5 L209.5,199.4 L200.8,206.8 L193.3,215.5 L184.6,226.1 L174.6,237.9 L171.5,242.9 L169.7,248.5 L164.7,256.0 L162.2,262.2 L158.5,267.2 L153.5,271.5 L151.0,274.0 L151.6,276.5 L157.2,276.5 L162.2,271.5 L166.6,267.8 L172.2,267.8 L175.9,270.9 L179.6,277.1 L182.7,282.1 L183.4,287.1" fill="none" stroke="#ff0000" stroke-width="1.5" stroke-linejoin="round" transform="translate(0.7,0.7)"/>
<path d="M361.1,126.7 L361.8,136.7 L362.4,144.2 L364.2,149.8 L368.6,159.7 L373.6,169.7 L378.6,177.1 L383.5,185.2 L388.5,191.4 L392.2,196.4 L394.7,200.0 L398.5,206.2 L399.7,211.2 L399.1,216.2 L396.0,220.5 L392.2,221.8 L384.8,221.8 L377.3,222.4 L372.3,224.2 L364.9,224.9 L356.2,226.7 L348.7,227.6 L340.0,227.1 L336.3,227.6 L332.0,230.5 L324.5,230.5 L319.5,228.0 L315.8,226.1 L309.6,226.7 L305.8,229.2 L302.1,233.6 L297.1,238.6 L287.2,249.8 L277.2,259.7" fill="none" stroke="#008000" stroke-width="1.2" stroke-linejoin="round"/>
<path d="M345.6,127.6 L345.7,131.1 L344.4,136.1 L341.9,141.7 L334.5,146.0 L327.0,147.9 L322.0,151.6 L314.6,156.6 L305.8,165.9 L305.8,172.2 L308.3,175.9 L309.0,182.1 L308.3,189.6 L307.1,194.6 L307.7,202.5 L310.2,205.6 L310.2,211.2 L302.1,219.3 L294.6,226.7 L289.7,231.1 L289.0,234.2 L284.7,239.2 L277.2,246.6 L272.9,252.9 L274.1,256.6 L276.6,259.1 L276.0,262.2 L273.5,265.3" fill="none" stroke="#0080ff" stroke-width="1.2" stroke-linejoin="round" transform="translate(0.8,0.6)"/>
<text x="21.9" y="34.1" font-size="16.5" font-family="Liberation Serif, serif" font-weight="bold"  textLength="137.4" lengthAdjust="spacingAndGlyphs">Muslim Majorities</text>
<rect x="21.9" y="36.3" width="137.4" height="1.3" fill="#000"/>
<rect x="20" y="45.9" width="26.8" height="95" fill="#000"/>
<rect x="21.9" y="46.9" width="23" height="19.2" fill="#008000"/>
<rect x="21.9" y="67.9" width="23" height="16.0" fill="#00ff00"/>
<rect x="21.9" y="86.0" width="23" height="16.0" fill="#8000ff"/>
<rect x="21.9" y="104.1" width="23" height="16.9" fill="#0000ff"/>
<rect x="21.9" y="123.1" width="23" height="16.0" fill="#00ffff"/>
<text x="51.8" y="61.1" font-size="12.4" font-family="Liberation Serif, serif" font-weight="bold" textLength="74.2" lengthAdjust="spacingAndGlyphs" xml:space="preserve">90 – 100<tspan font-weight="normal" font-size="14.5"> %</tspan></text>
<text x="51.8" y="78.9" font-size="12.4" font-family="Liberation Serif, serif" font-weight="bold" textLength="65.3" lengthAdjust="spacingAndGlyphs" xml:space="preserve">80 – 90<tspan font-weight="normal" font-size="14.5"> %</tspan></text>
<text x="52.0" y="98.8" font-size="12.4" font-family="Liberation Serif, serif" font-weight="bold" textLength="65.1" lengthAdjust="spacingAndGlyphs" xml:space="preserve">70 – 80<tspan font-weight="normal" font-size="14.5"> %</tspan></text>
<text x="52.0" y="116.3" font-size="12.4" font-family="Liberation Serif, serif" font-weight="bold" textLength="65.1" lengthAdjust="spacingAndGlyphs" xml:space="preserve">60 – 70<tspan font-weight="normal" font-size="14.5"> %</tspan></text>
<text x="51.2" y="135.5" font-size="12.4" font-family="Liberation Serif, serif" font-weight="bold" textLength="64.7" lengthAdjust="spacingAndGlyphs" xml:space="preserve">50 – 60<tspan font-weight="normal" font-size="14.5"> %</tspan></text>
<text x="244.8" y="305.8" font-size="16.5" font-family="Liberation Serif, serif" font-weight="bold"  textLength="56.1" lengthAdjust="spacingAndGlyphs">Muslim</text>
<rect x="244.8" y="308.0" width="56.1" height="1.3" fill="#000"/>
<text x="244.8" y="325.6" font-size="16.5" font-family="Liberation Serif, serif" font-weight="bold"  textLength="77.4" lengthAdjust="spacingAndGlyphs">Minorities</text>
<rect x="244.8" y="327.8" width="77.4" height="1.3" fill="#000"/>
<rect x="230.2" y="331.9" width="27.7" height="93.8" fill="#000"/>
<rect x="232" y="333.5" width="24" height="16.6" fill="#ff0000"/>
<rect x="232" y="352.0" width="24" height="17.0" fill="#ff0080"/>
<rect x="232" y="371.0" width="24" height="15.8" fill="#ff8000"/>
<rect x="232" y="388.8" width="24" height="16.9" fill="#808080"/>
<rect x="232" y="407.8" width="24" height="16.2" fill="url(#maroon)"/>
<text x="263.4" y="345.3" font-size="12.4" font-family="Liberation Serif, serif" font-weight="bold" textLength="69.6" lengthAdjust="spacingAndGlyphs" xml:space="preserve">40 – 50<tspan font-weight="normal" font-size="14.5"> %</tspan></text>
<text x="264.2" y="365.1" font-size="12.4" font-family="Liberation Serif, serif" font-weight="bold" textLength="68.8" lengthAdjust="spacingAndGlyphs" xml:space="preserve">30 – 40<tspan font-weight="normal" font-size="14.5"> %</tspan></text>
<text x="264.5" y="385.3" font-size="12.4" font-family="Liberation Serif, serif" font-weight="bold" textLength="69.3" lengthAdjust="spacingAndGlyphs" xml:space="preserve">20 – 30<tspan font-weight="normal" font-size="14.5"> %</tspan></text>
<text x="264.5" y="402.6" font-size="12.4" font-family="Liberation Serif, serif" font-weight="bold" textLength="69.3" lengthAdjust="spacingAndGlyphs" xml:space="preserve">10 – 20<tspan font-weight="normal" font-size="14.5"> %</tspan></text>
<text x="267.4" y="421.2" font-size="12.4" font-family="Liberation Serif, serif" font-weight="bold" textLength="65.6" lengthAdjust="spacingAndGlyphs" xml:space="preserve">0  – 10<tspan font-weight="normal" font-size="14.5"> %</tspan></text>
<rect x="320" y="32" width="64" height="2" fill="#008000"/>
<rect x="320" y="48" width="64" height="2" fill="#ff0000"/>
<text x="389.7" y="35.5" font-size="15.5" font-family="Liberation Serif, serif" font-weight="bold"  textLength="153.1" lengthAdjust="spacingAndGlyphs">Mulism League Claim</text>
<text x="389.7" y="54.3" font-size="15.5" font-family="Liberation Serif, serif" font-weight="bold"  textLength="146.1" lengthAdjust="spacingAndGlyphs">Congress-Sikh Claim</text>
<rect x="561" y="446" width="1" height="1" fill="#000"/>
</svg>
</body></html>
